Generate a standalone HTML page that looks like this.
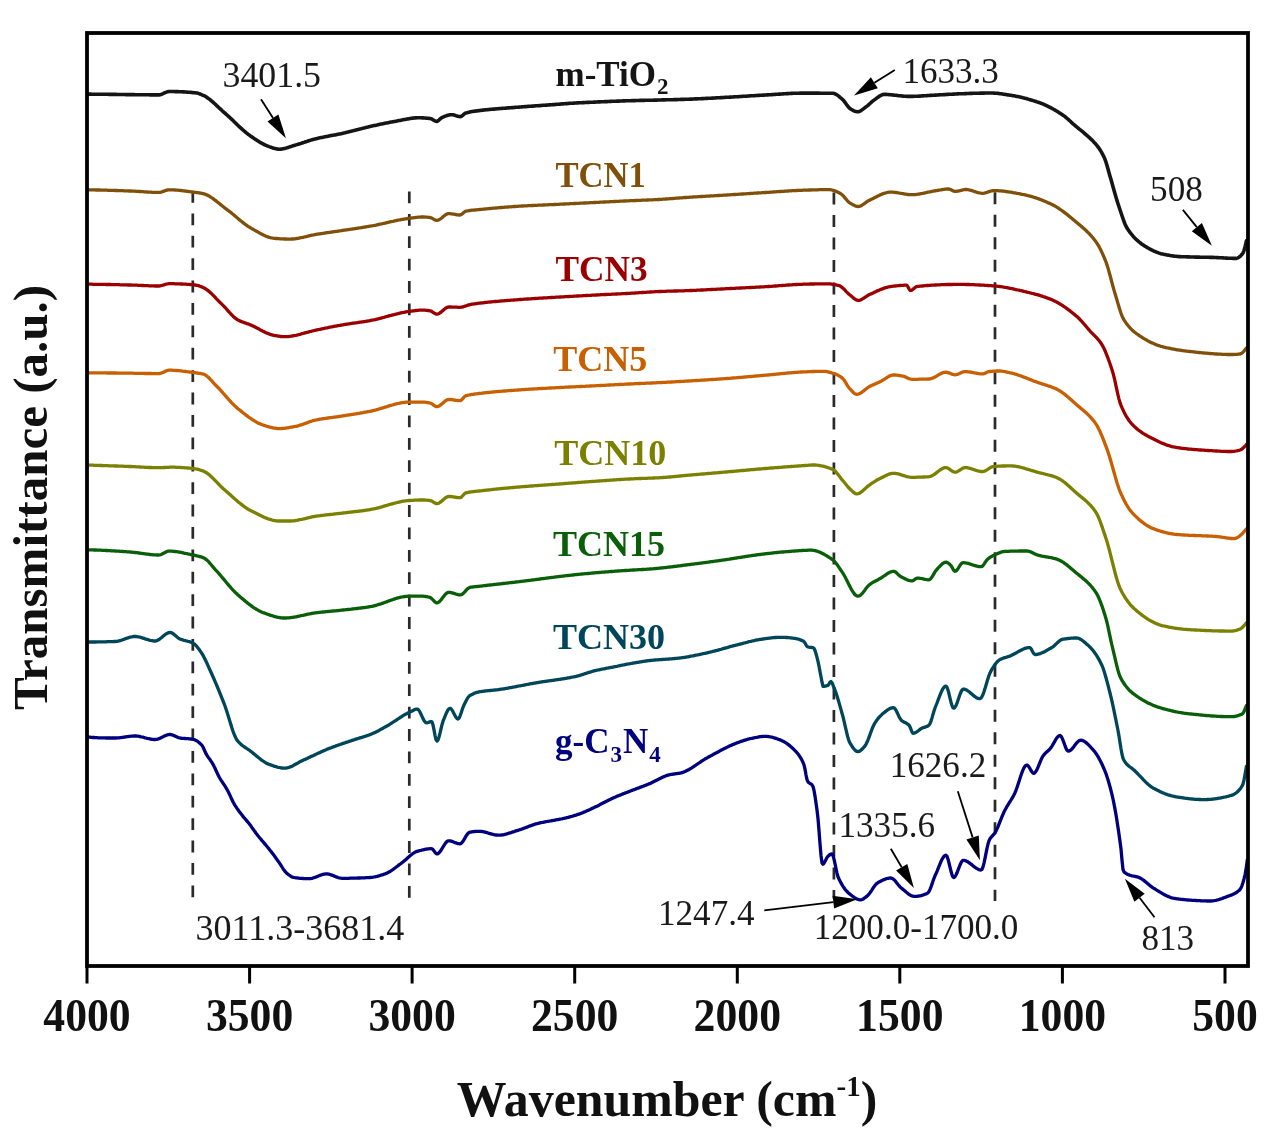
<!DOCTYPE html>
<html><head><meta charset="utf-8"><style>
html,body{margin:0;padding:0;background:#fff;width:1271px;height:1144px;overflow:hidden}
svg{display:block;filter:blur(0.45px)}
text{font-family:"Liberation Serif",serif}
.tl{font-size:46px;font-weight:bold;fill:#111}
.an{font-size:36px;fill:#1a1a1a}
.lb{font-size:35px;font-weight:bold}
.sub{font-size:23px}
.xt{font-size:51.5px;font-weight:bold;fill:#111}
.yt{font-size:49px}
.sup{font-size:30px}
</style></head><body>
<svg width="1271" height="1144" viewBox="0 0 1271 1144">
<line x1="192.8" y1="191.0" x2="192.8" y2="898.5" stroke="#2a2a2a" stroke-width="2.7" stroke-dasharray="11.8 10.6"/>
<line x1="409.3" y1="191.5" x2="409.3" y2="899.0" stroke="#2a2a2a" stroke-width="2.7" stroke-dasharray="11.8 10.6"/>
<line x1="833.9" y1="192.6" x2="833.9" y2="898.5" stroke="#2a2a2a" stroke-width="2.7" stroke-dasharray="12 10.5"/>
<line x1="995.0" y1="192.3" x2="995.0" y2="901.0" stroke="#2a2a2a" stroke-width="2.7" stroke-dasharray="12 10.5"/>
<path d="M88.0 94.1L89.0 94.1L90.0 94.1L91.0 94.1L92.0 94.2L93.0 94.2L94.0 94.2L95.0 94.2L96.0 94.2L97.0 94.2L98.0 94.2L99.0 94.2L100.0 94.3L101.0 94.3L102.0 94.3L103.0 94.3L104.0 94.3L105.0 94.3L106.0 94.3L107.0 94.3L108.0 94.3L109.0 94.4L110.0 94.4L111.0 94.4L112.0 94.4L113.0 94.4L114.0 94.4L115.0 94.4L116.0 94.4L117.0 94.5L118.0 94.5L119.0 94.5L120.0 94.5L121.0 94.5L122.0 94.5L123.0 94.5L124.0 94.5L125.0 94.5L126.0 94.6L127.0 94.6L128.0 94.6L129.0 94.6L130.0 94.6L131.0 94.6L132.0 94.6L133.0 94.6L134.0 94.6L135.0 94.7L136.0 94.7L137.0 94.7L138.0 94.7L139.0 94.7L140.0 94.7L141.0 94.7L142.0 94.8L143.0 94.8L144.0 94.8L145.0 94.8L146.0 94.8L147.0 94.8L148.0 94.8L149.0 94.8L150.0 94.9L151.0 94.9L152.0 94.9L153.0 94.9L154.0 94.9L155.0 94.9L156.0 94.9L157.0 94.9L158.0 94.9L159.0 94.9L160.0 94.8L161.0 94.5L162.0 94.1L163.0 93.7L164.0 93.2L165.0 92.7L166.0 92.3L167.0 91.9L168.0 91.6L169.0 91.5L170.0 91.5L171.0 91.5L172.0 91.5L173.0 91.5L174.0 91.5L175.0 91.6L176.0 91.6L177.0 91.6L178.0 91.6L179.0 91.7L180.0 91.7L181.0 91.8L182.0 91.8L183.0 91.9L184.0 91.9L185.0 92.0L186.0 92.0L187.0 92.1L188.0 92.2L189.0 92.2L190.0 92.3L191.0 92.4L192.0 92.5L193.0 92.6L194.0 92.7L195.0 92.8L196.0 92.9L197.0 93.1L198.0 93.3L199.0 93.6L200.0 94.0L201.0 94.4L202.0 94.8L203.0 95.3L204.0 95.7L205.0 96.2L206.0 96.8L207.0 97.5L208.0 98.2L209.0 98.9L210.0 99.7L211.0 100.5L212.0 101.3L213.0 102.2L214.0 103.1L215.0 104.0L216.0 104.9L217.0 105.9L218.0 106.8L219.0 107.8L220.0 108.7L221.0 109.6L222.0 110.6L223.0 111.5L224.0 112.3L225.0 113.2L226.0 114.1L227.0 115.0L228.0 115.9L229.0 116.8L230.0 117.7L231.0 118.7L232.0 119.6L233.0 120.6L234.0 121.6L235.0 122.5L236.0 123.5L237.0 124.5L238.0 125.4L239.0 126.4L240.0 127.3L241.0 128.2L242.0 129.1L243.0 130.0L244.0 130.9L245.0 131.7L246.0 132.6L247.0 133.4L248.0 134.2L249.0 134.9L250.0 135.7L251.0 136.3L252.0 137.0L253.0 137.7L254.0 138.4L255.0 139.1L256.0 139.7L257.0 140.4L258.0 141.0L259.0 141.6L260.0 142.3L261.0 142.8L262.0 143.4L263.0 143.9L264.0 144.5L265.0 144.9L266.0 145.4L267.0 145.8L268.0 146.2L269.0 146.6L270.0 146.9L271.0 147.3L272.0 147.6L273.0 148.0L274.0 148.3L275.0 148.6L276.0 148.8L277.0 149.0L278.0 149.1L279.0 149.2L280.0 149.2L281.0 149.1L282.0 149.0L283.0 148.8L284.0 148.6L285.0 148.4L286.0 148.1L287.0 147.8L288.0 147.5L289.0 147.1L290.0 146.8L291.0 146.5L292.0 146.1L293.0 145.8L294.0 145.5L295.0 145.2L296.0 144.9L297.0 144.6L298.0 144.3L299.0 144.0L300.0 143.7L301.0 143.4L302.0 143.0L303.0 142.7L304.0 142.4L305.0 142.0L306.0 141.7L307.0 141.4L308.0 141.0L309.0 140.7L310.0 140.4L311.0 140.1L312.0 139.8L313.0 139.5L314.0 139.2L315.0 139.0L316.0 138.7L317.0 138.5L318.0 138.2L319.0 138.0L320.0 137.8L321.0 137.6L322.0 137.4L323.0 137.2L324.0 137.0L325.0 136.8L326.0 136.6L327.0 136.4L328.0 136.2L329.0 136.0L330.0 135.8L331.0 135.6L332.0 135.4L333.0 135.3L334.0 135.1L335.0 134.9L336.0 134.7L337.0 134.5L338.0 134.3L339.0 134.1L340.0 133.9L341.0 133.7L342.0 133.5L343.0 133.2L344.0 133.0L345.0 132.8L346.0 132.5L347.0 132.3L348.0 132.1L349.0 131.8L350.0 131.5L351.0 131.3L352.0 131.0L353.0 130.8L354.0 130.5L355.0 130.3L356.0 130.0L357.0 129.7L358.0 129.5L359.0 129.2L360.0 128.9L361.0 128.7L362.0 128.4L363.0 128.2L364.0 127.9L365.0 127.7L366.0 127.4L367.0 127.2L368.0 127.0L369.0 126.7L370.0 126.5L371.0 126.3L372.0 126.1L373.0 125.8L374.0 125.6L375.0 125.4L376.0 125.2L377.0 125.0L378.0 124.7L379.0 124.5L380.0 124.3L381.0 124.1L382.0 123.9L383.0 123.7L384.0 123.5L385.0 123.3L386.0 123.1L387.0 122.9L388.0 122.7L389.0 122.5L390.0 122.3L391.0 122.1L392.0 121.9L393.0 121.8L394.0 121.6L395.0 121.4L396.0 121.2L397.0 121.0L398.0 120.8L399.0 120.6L400.0 120.4L401.0 120.2L402.0 120.0L403.0 119.8L404.0 119.6L405.0 119.4L406.0 119.2L407.0 119.0L408.0 118.9L409.0 118.7L410.0 118.5L411.0 118.4L412.0 118.3L413.0 118.1L414.0 118.0L415.0 117.9L416.0 117.9L417.0 117.8L418.0 117.8L419.0 117.8L420.0 117.8L421.0 117.8L422.0 117.9L423.0 117.9L424.0 118.0L425.0 118.0L426.0 118.1L427.0 118.2L428.0 118.3L429.0 118.4L430.0 118.5L431.0 118.7L432.0 119.2L433.0 119.8L434.0 120.4L435.0 120.9L436.0 121.3L437.0 121.4L438.0 120.9L439.0 120.1L440.0 119.1L441.0 118.2L442.0 117.5L443.0 117.1L444.0 116.6L445.0 116.2L446.0 115.9L447.0 115.5L448.0 115.2L449.0 115.0L450.0 114.8L451.0 114.7L452.0 114.7L453.0 114.8L454.0 115.1L455.0 115.3L456.0 115.7L457.0 116.0L458.0 116.3L459.0 116.5L460.0 116.6L461.0 116.5L462.0 115.9L463.0 115.1L464.0 114.2L465.0 113.4L466.0 112.9L467.0 112.7L468.0 112.4L469.0 112.2L470.0 111.9L471.0 111.8L472.0 111.6L473.0 111.4L474.0 111.3L475.0 111.1L476.0 111.0L477.0 110.9L478.0 110.7L479.0 110.6L480.0 110.5L481.0 110.4L482.0 110.3L483.0 110.1L484.0 110.0L485.0 109.9L486.0 109.8L487.0 109.7L488.0 109.6L489.0 109.5L490.0 109.4L491.0 109.3L492.0 109.2L493.0 109.1L494.0 109.1L495.0 109.0L496.0 108.9L497.0 108.8L498.0 108.7L499.0 108.6L500.0 108.5L501.0 108.5L502.0 108.4L503.0 108.3L504.0 108.2L505.0 108.2L506.0 108.1L507.0 108.0L508.0 107.9L509.0 107.9L510.0 107.8L511.0 107.7L512.0 107.6L513.0 107.6L514.0 107.5L515.0 107.4L516.0 107.3L517.0 107.3L518.0 107.2L519.0 107.1L520.0 107.0L521.0 107.0L522.0 106.9L523.0 106.8L524.0 106.7L525.0 106.6L526.0 106.6L527.0 106.5L528.0 106.4L529.0 106.3L530.0 106.3L531.0 106.2L532.0 106.1L533.0 106.1L534.0 106.0L535.0 105.9L536.0 105.8L537.0 105.8L538.0 105.7L539.0 105.6L540.0 105.6L541.0 105.5L542.0 105.4L543.0 105.3L544.0 105.3L545.0 105.2L546.0 105.1L547.0 105.1L548.0 105.0L549.0 104.9L550.0 104.9L551.0 104.8L552.0 104.7L553.0 104.6L554.0 104.6L555.0 104.5L556.0 104.4L557.0 104.3L558.0 104.3L559.0 104.2L560.0 104.1L561.0 104.0L562.0 103.9L563.0 103.9L564.0 103.8L565.0 103.7L566.0 103.6L567.0 103.6L568.0 103.5L569.0 103.4L570.0 103.3L571.0 103.3L572.0 103.2L573.0 103.2L574.0 103.1L575.0 103.0L576.0 103.0L577.0 102.9L578.0 102.9L579.0 102.8L580.0 102.8L581.0 102.7L582.0 102.7L583.0 102.6L584.0 102.6L585.0 102.5L586.0 102.5L587.0 102.4L588.0 102.4L589.0 102.4L590.0 102.3L591.0 102.3L592.0 102.2L593.0 102.2L594.0 102.1L595.0 102.1L596.0 102.0L597.0 102.0L598.0 101.9L599.0 101.9L600.0 101.9L601.0 101.8L602.0 101.8L603.0 101.7L604.0 101.7L605.0 101.6L606.0 101.6L607.0 101.6L608.0 101.5L609.0 101.5L610.0 101.4L611.0 101.4L612.0 101.3L613.0 101.3L614.0 101.3L615.0 101.2L616.0 101.2L617.0 101.1L618.0 101.1L619.0 101.1L620.0 101.0L621.0 101.0L622.0 101.0L623.0 100.9L624.0 100.9L625.0 100.9L626.0 100.8L627.0 100.8L628.0 100.8L629.0 100.7L630.0 100.7L631.0 100.7L632.0 100.6L633.0 100.6L634.0 100.6L635.0 100.6L636.0 100.5L637.0 100.5L638.0 100.5L639.0 100.5L640.0 100.4L641.0 100.4L642.0 100.4L643.0 100.4L644.0 100.4L645.0 100.3L646.0 100.3L647.0 100.3L648.0 100.3L649.0 100.3L650.0 100.2L651.0 100.2L652.0 100.2L653.0 100.2L654.0 100.1L655.0 100.1L656.0 100.1L657.0 100.1L658.0 100.0L659.0 100.0L660.0 100.0L661.0 100.0L662.0 99.9L663.0 99.9L664.0 99.9L665.0 99.9L666.0 99.8L667.0 99.8L668.0 99.8L669.0 99.8L670.0 99.7L671.0 99.7L672.0 99.7L673.0 99.7L674.0 99.6L675.0 99.6L676.0 99.6L677.0 99.6L678.0 99.5L679.0 99.5L680.0 99.5L681.0 99.4L682.0 99.4L683.0 99.4L684.0 99.4L685.0 99.3L686.0 99.3L687.0 99.3L688.0 99.2L689.0 99.2L690.0 99.1L691.0 99.1L692.0 99.1L693.0 99.0L694.0 99.0L695.0 98.9L696.0 98.9L697.0 98.9L698.0 98.8L699.0 98.8L700.0 98.7L701.0 98.7L702.0 98.6L703.0 98.6L704.0 98.5L705.0 98.5L706.0 98.4L707.0 98.4L708.0 98.3L709.0 98.3L710.0 98.2L711.0 98.2L712.0 98.1L713.0 98.1L714.0 98.0L715.0 98.0L716.0 97.9L717.0 97.8L718.0 97.8L719.0 97.7L720.0 97.7L721.0 97.6L722.0 97.6L723.0 97.5L724.0 97.5L725.0 97.4L726.0 97.3L727.0 97.3L728.0 97.2L729.0 97.2L730.0 97.1L731.0 97.1L732.0 97.0L733.0 97.0L734.0 96.9L735.0 96.8L736.0 96.8L737.0 96.7L738.0 96.7L739.0 96.6L740.0 96.5L741.0 96.5L742.0 96.4L743.0 96.3L744.0 96.3L745.0 96.2L746.0 96.2L747.0 96.1L748.0 96.0L749.0 96.0L750.0 95.9L751.0 95.8L752.0 95.8L753.0 95.7L754.0 95.7L755.0 95.6L756.0 95.5L757.0 95.5L758.0 95.4L759.0 95.4L760.0 95.3L761.0 95.2L762.0 95.2L763.0 95.1L764.0 95.1L765.0 95.0L766.0 95.0L767.0 94.9L768.0 94.9L769.0 94.8L770.0 94.7L771.0 94.7L772.0 94.6L773.0 94.5L774.0 94.5L775.0 94.4L776.0 94.3L777.0 94.3L778.0 94.2L779.0 94.1L780.0 94.1L781.0 94.0L782.0 94.0L783.0 93.9L784.0 93.8L785.0 93.8L786.0 93.7L787.0 93.6L788.0 93.6L789.0 93.5L790.0 93.5L791.0 93.4L792.0 93.4L793.0 93.3L794.0 93.3L795.0 93.3L796.0 93.2L797.0 93.2L798.0 93.2L799.0 93.2L800.0 93.1L801.0 93.1L802.0 93.1L803.0 93.1L804.0 93.1L805.0 93.1L806.0 93.1L807.0 93.1L808.0 93.1L809.0 93.1L810.0 93.1L811.0 93.1L812.0 93.1L813.0 93.1L814.0 93.1L815.0 93.1L816.0 93.1L817.0 93.1L818.0 93.1L819.0 93.1L820.0 93.2L821.0 93.2L822.0 93.2L823.0 93.2L824.0 93.2L825.0 93.2L826.0 93.2L827.0 93.2L828.0 93.2L829.0 93.2L830.0 93.3L831.0 93.3L832.0 93.3L833.0 93.3L834.0 93.5L835.0 93.8L836.0 94.3L837.0 94.9L838.0 95.6L839.0 96.4L840.0 97.3L841.0 98.1L842.0 99.0L843.0 99.9L844.0 101.0L845.0 102.4L846.0 103.8L847.0 105.2L848.0 106.5L849.0 107.7L850.0 108.5L851.0 109.2L852.0 109.8L853.0 110.4L854.0 110.9L855.0 111.3L856.0 111.6L857.0 111.8L858.0 111.8L859.0 111.5L860.0 111.1L861.0 110.6L862.0 109.9L863.0 109.1L864.0 108.4L865.0 107.6L866.0 106.8L867.0 106.1L868.0 105.3L869.0 104.4L870.0 103.5L871.0 102.6L872.0 101.7L873.0 100.9L874.0 100.1L875.0 99.4L876.0 98.7L877.0 97.9L878.0 97.2L879.0 96.5L880.0 95.8L881.0 95.3L882.0 94.8L883.0 94.5L884.0 94.4L885.0 94.4L886.0 94.4L887.0 94.5L888.0 94.5L889.0 94.6L890.0 94.7L891.0 94.8L892.0 94.9L893.0 95.0L894.0 95.1L895.0 95.2L896.0 95.3L897.0 95.4L898.0 95.6L899.0 95.7L900.0 95.8L901.0 95.9L902.0 96.0L903.0 96.1L904.0 96.2L905.0 96.3L906.0 96.3L907.0 96.4L908.0 96.4L909.0 96.4L910.0 96.4L911.0 96.4L912.0 96.4L913.0 96.4L914.0 96.3L915.0 96.3L916.0 96.2L917.0 96.2L918.0 96.2L919.0 96.1L920.0 96.1L921.0 96.0L922.0 95.9L923.0 95.9L924.0 95.8L925.0 95.7L926.0 95.7L927.0 95.6L928.0 95.5L929.0 95.5L930.0 95.4L931.0 95.4L932.0 95.3L933.0 95.2L934.0 95.2L935.0 95.1L936.0 95.1L937.0 95.0L938.0 95.0L939.0 94.9L940.0 94.8L941.0 94.8L942.0 94.7L943.0 94.7L944.0 94.6L945.0 94.6L946.0 94.5L947.0 94.4L948.0 94.4L949.0 94.3L950.0 94.3L951.0 94.2L952.0 94.2L953.0 94.1L954.0 94.1L955.0 94.0L956.0 94.0L957.0 93.9L958.0 93.9L959.0 93.8L960.0 93.8L961.0 93.8L962.0 93.7L963.0 93.7L964.0 93.7L965.0 93.6L966.0 93.6L967.0 93.5L968.0 93.5L969.0 93.5L970.0 93.4L971.0 93.4L972.0 93.4L973.0 93.3L974.0 93.3L975.0 93.3L976.0 93.2L977.0 93.2L978.0 93.2L979.0 93.2L980.0 93.1L981.0 93.1L982.0 93.1L983.0 93.1L984.0 93.1L985.0 93.0L986.0 93.0L987.0 93.0L988.0 93.0L989.0 93.0L990.0 93.0L991.0 93.0L992.0 93.0L993.0 93.0L994.0 93.1L995.0 93.2L996.0 93.2L997.0 93.3L998.0 93.4L999.0 93.5L1000.0 93.7L1001.0 93.8L1002.0 93.9L1003.0 94.1L1004.0 94.2L1005.0 94.4L1006.0 94.5L1007.0 94.7L1008.0 94.9L1009.0 95.0L1010.0 95.2L1011.0 95.3L1012.0 95.5L1013.0 95.7L1014.0 95.8L1015.0 96.0L1016.0 96.2L1017.0 96.4L1018.0 96.6L1019.0 96.8L1020.0 97.1L1021.0 97.3L1022.0 97.5L1023.0 97.8L1024.0 98.0L1025.0 98.3L1026.0 98.5L1027.0 98.8L1028.0 99.1L1029.0 99.4L1030.0 99.7L1031.0 100.0L1032.0 100.3L1033.0 100.6L1034.0 100.9L1035.0 101.2L1036.0 101.5L1037.0 101.9L1038.0 102.2L1039.0 102.5L1040.0 102.9L1041.0 103.3L1042.0 103.6L1043.0 104.0L1044.0 104.5L1045.0 104.9L1046.0 105.4L1047.0 105.8L1048.0 106.3L1049.0 106.8L1050.0 107.3L1051.0 107.9L1052.0 108.4L1053.0 109.0L1054.0 109.5L1055.0 110.1L1056.0 110.7L1057.0 111.3L1058.0 111.9L1059.0 112.6L1060.0 113.2L1061.0 113.9L1062.0 114.5L1063.0 115.2L1064.0 115.9L1065.0 116.7L1066.0 117.5L1067.0 118.4L1068.0 119.2L1069.0 120.1L1070.0 121.0L1071.0 121.9L1072.0 122.9L1073.0 123.8L1074.0 124.6L1075.0 125.5L1076.0 126.3L1077.0 127.1L1078.0 128.0L1079.0 128.8L1080.0 129.6L1081.0 130.4L1082.0 131.2L1083.0 132.0L1084.0 132.9L1085.0 133.8L1086.0 134.7L1087.0 135.5L1088.0 136.4L1089.0 137.3L1090.0 138.2L1091.0 139.2L1092.0 140.1L1093.0 141.1L1094.0 142.2L1095.0 143.2L1096.0 144.4L1097.0 145.6L1098.0 146.9L1099.0 148.3L1100.0 149.8L1101.0 151.4L1102.0 153.1L1103.0 155.0L1104.0 157.1L1105.0 159.4L1106.0 162.2L1107.0 165.5L1108.0 169.1L1109.0 172.7L1110.0 176.2L1111.0 179.6L1112.0 183.1L1113.0 186.7L1114.0 190.2L1115.0 193.8L1116.0 197.2L1117.0 200.6L1118.0 203.8L1119.0 206.8L1120.0 209.8L1121.0 212.8L1122.0 215.8L1123.0 218.7L1124.0 221.5L1125.0 224.0L1126.0 226.2L1127.0 228.1L1128.0 229.6L1129.0 231.0L1130.0 232.4L1131.0 233.7L1132.0 234.9L1133.0 236.1L1134.0 237.2L1135.0 238.2L1136.0 239.2L1137.0 240.2L1138.0 241.0L1139.0 241.9L1140.0 242.7L1141.0 243.5L1142.0 244.2L1143.0 244.9L1144.0 245.5L1145.0 246.2L1146.0 246.8L1147.0 247.4L1148.0 248.0L1149.0 248.5L1150.0 249.1L1151.0 249.6L1152.0 250.1L1153.0 250.6L1154.0 251.1L1155.0 251.5L1156.0 251.9L1157.0 252.3L1158.0 252.7L1159.0 253.1L1160.0 253.4L1161.0 253.7L1162.0 253.9L1163.0 254.1L1164.0 254.4L1165.0 254.6L1166.0 254.8L1167.0 255.0L1168.0 255.1L1169.0 255.3L1170.0 255.5L1171.0 255.7L1172.0 255.8L1173.0 256.0L1174.0 256.1L1175.0 256.2L1176.0 256.3L1177.0 256.4L1178.0 256.5L1179.0 256.6L1180.0 256.6L1181.0 256.7L1182.0 256.7L1183.0 256.7L1184.0 256.8L1185.0 256.8L1186.0 256.8L1187.0 256.9L1188.0 256.9L1189.0 256.9L1190.0 257.0L1191.0 257.0L1192.0 257.0L1193.0 257.0L1194.0 257.0L1195.0 257.1L1196.0 257.1L1197.0 257.1L1198.0 257.1L1199.0 257.1L1200.0 257.2L1201.0 257.2L1202.0 257.2L1203.0 257.2L1204.0 257.2L1205.0 257.3L1206.0 257.3L1207.0 257.3L1208.0 257.3L1209.0 257.3L1210.0 257.4L1211.0 257.4L1212.0 257.4L1213.0 257.4L1214.0 257.5L1215.0 257.5L1216.0 257.5L1217.0 257.6L1218.0 257.6L1219.0 257.7L1220.0 257.7L1221.0 257.8L1222.0 257.8L1223.0 257.9L1224.0 258.0L1225.0 258.0L1226.0 258.1L1227.0 258.1L1228.0 258.2L1229.0 258.2L1230.0 258.3L1231.0 258.3L1232.0 258.3L1233.0 258.4L1234.0 258.4L1235.0 258.4L1236.0 258.4L1237.0 258.2L1238.0 257.8L1239.0 257.2L1240.0 256.4L1241.0 255.4L1242.0 254.3L1243.0 253.0L1244.0 250.6L1245.0 247.0L1246.0 242.7L1246.4 240.9" fill="none" stroke="#151515" stroke-width="3.6" stroke-linejoin="round" stroke-linecap="round"/>
<path d="M88.0 189.8L89.0 189.8L90.0 189.8L91.0 189.9L92.0 189.9L93.0 189.9L94.0 189.9L95.0 189.9L96.0 190.0L97.0 190.0L98.0 190.0L99.0 190.0L100.0 190.0L101.0 190.1L102.0 190.1L103.0 190.1L104.0 190.2L105.0 190.2L106.0 190.2L107.0 190.2L108.0 190.3L109.0 190.3L110.0 190.3L111.0 190.4L112.0 190.4L113.0 190.4L114.0 190.4L115.0 190.5L116.0 190.5L117.0 190.5L118.0 190.6L119.0 190.6L120.0 190.6L121.0 190.7L122.0 190.7L123.0 190.7L124.0 190.8L125.0 190.8L126.0 190.9L127.0 190.9L128.0 190.9L129.0 191.0L130.0 191.0L131.0 191.0L132.0 191.1L133.0 191.1L134.0 191.2L135.0 191.2L136.0 191.3L137.0 191.4L138.0 191.4L139.0 191.5L140.0 191.5L141.0 191.6L142.0 191.7L143.0 191.7L144.0 191.8L145.0 191.9L146.0 191.9L147.0 192.0L148.0 192.1L149.0 192.1L150.0 192.2L151.0 192.2L152.0 192.3L153.0 192.3L154.0 192.3L155.0 192.4L156.0 192.4L157.0 192.4L158.0 192.4L159.0 192.4L160.0 192.3L161.0 192.1L162.0 191.8L163.0 191.4L164.0 191.1L165.0 190.7L166.0 190.4L167.0 190.1L168.0 189.9L169.0 189.8L170.0 189.8L171.0 189.8L172.0 189.8L173.0 189.9L174.0 189.9L175.0 190.0L176.0 190.1L177.0 190.1L178.0 190.2L179.0 190.3L180.0 190.4L181.0 190.5L182.0 190.6L183.0 190.8L184.0 190.9L185.0 191.0L186.0 191.1L187.0 191.3L188.0 191.4L189.0 191.5L190.0 191.7L191.0 191.8L192.0 191.9L193.0 192.1L194.0 192.2L195.0 192.3L196.0 192.5L197.0 192.6L198.0 192.7L199.0 192.9L200.0 193.0L201.0 193.2L202.0 193.4L203.0 193.6L204.0 193.9L205.0 194.2L206.0 194.6L207.0 195.0L208.0 195.5L209.0 196.1L210.0 196.6L211.0 197.3L212.0 197.9L213.0 198.6L214.0 199.4L215.0 200.1L216.0 200.9L217.0 201.7L218.0 202.5L219.0 203.3L220.0 204.1L221.0 204.9L222.0 205.7L223.0 206.5L224.0 207.3L225.0 208.1L226.0 208.8L227.0 209.6L228.0 210.3L229.0 211.1L230.0 211.8L231.0 212.6L232.0 213.5L233.0 214.3L234.0 215.1L235.0 216.0L236.0 216.8L237.0 217.7L238.0 218.5L239.0 219.4L240.0 220.2L241.0 221.0L242.0 221.8L243.0 222.6L244.0 223.4L245.0 224.2L246.0 224.9L247.0 225.6L248.0 226.3L249.0 226.9L250.0 227.5L251.0 228.1L252.0 228.7L253.0 229.2L254.0 229.8L255.0 230.4L256.0 231.0L257.0 231.6L258.0 232.1L259.0 232.7L260.0 233.3L261.0 233.8L262.0 234.3L263.0 234.8L264.0 235.3L265.0 235.7L266.0 236.2L267.0 236.6L268.0 236.9L269.0 237.3L270.0 237.5L271.0 237.8L272.0 238.0L273.0 238.2L274.0 238.3L275.0 238.4L276.0 238.5L277.0 238.5L278.0 238.6L279.0 238.7L280.0 238.8L281.0 238.8L282.0 238.9L283.0 238.9L284.0 239.0L285.0 239.0L286.0 239.0L287.0 239.1L288.0 239.1L289.0 239.1L290.0 239.1L291.0 239.1L292.0 239.0L293.0 239.0L294.0 238.9L295.0 238.8L296.0 238.6L297.0 238.5L298.0 238.3L299.0 238.1L300.0 237.9L301.0 237.7L302.0 237.5L303.0 237.3L304.0 237.0L305.0 236.8L306.0 236.6L307.0 236.3L308.0 236.1L309.0 235.8L310.0 235.6L311.0 235.4L312.0 235.2L313.0 235.0L314.0 234.8L315.0 234.6L316.0 234.4L317.0 234.2L318.0 234.1L319.0 233.9L320.0 233.8L321.0 233.6L322.0 233.5L323.0 233.3L324.0 233.2L325.0 233.0L326.0 232.9L327.0 232.7L328.0 232.6L329.0 232.4L330.0 232.3L331.0 232.1L332.0 232.0L333.0 231.9L334.0 231.7L335.0 231.6L336.0 231.4L337.0 231.3L338.0 231.1L339.0 231.0L340.0 230.8L341.0 230.7L342.0 230.5L343.0 230.4L344.0 230.2L345.0 230.1L346.0 229.9L347.0 229.8L348.0 229.6L349.0 229.5L350.0 229.3L351.0 229.2L352.0 229.1L353.0 228.9L354.0 228.8L355.0 228.6L356.0 228.4L357.0 228.3L358.0 228.1L359.0 228.0L360.0 227.8L361.0 227.7L362.0 227.5L363.0 227.4L364.0 227.2L365.0 227.0L366.0 226.9L367.0 226.7L368.0 226.5L369.0 226.4L370.0 226.2L371.0 226.0L372.0 225.8L373.0 225.7L374.0 225.5L375.0 225.3L376.0 225.1L377.0 224.8L378.0 224.6L379.0 224.4L380.0 224.2L381.0 224.0L382.0 223.8L383.0 223.5L384.0 223.3L385.0 223.1L386.0 222.8L387.0 222.6L388.0 222.4L389.0 222.2L390.0 221.9L391.0 221.7L392.0 221.5L393.0 221.3L394.0 221.0L395.0 220.8L396.0 220.6L397.0 220.4L398.0 220.2L399.0 220.0L400.0 219.8L401.0 219.6L402.0 219.4L403.0 219.3L404.0 219.1L405.0 218.9L406.0 218.8L407.0 218.6L408.0 218.5L409.0 218.3L410.0 218.2L411.0 218.1L412.0 217.9L413.0 217.8L414.0 217.7L415.0 217.6L416.0 217.4L417.0 217.3L418.0 217.2L419.0 217.1L420.0 217.1L421.0 217.0L422.0 217.0L423.0 217.0L424.0 217.0L425.0 217.1L426.0 217.1L427.0 217.2L428.0 217.3L429.0 217.4L430.0 217.5L431.0 217.8L432.0 218.2L433.0 218.8L434.0 219.4L435.0 219.9L436.0 220.3L437.0 220.4L438.0 220.2L439.0 219.8L440.0 219.2L441.0 218.5L442.0 217.7L443.0 216.8L444.0 216.0L445.0 215.2L446.0 214.5L447.0 214.0L448.0 213.7L449.0 213.6L450.0 213.7L451.0 213.8L452.0 213.9L453.0 214.1L454.0 214.2L455.0 214.4L456.0 214.6L457.0 214.8L458.0 214.9L459.0 215.0L460.0 215.0L461.0 214.7L462.0 214.1L463.0 213.2L464.0 212.3L465.0 211.5L466.0 211.2L467.0 211.0L468.0 210.8L469.0 210.6L470.0 210.5L471.0 210.4L472.0 210.2L473.0 210.2L474.0 210.1L475.0 210.0L476.0 209.9L477.0 209.8L478.0 209.7L479.0 209.6L480.0 209.5L481.0 209.4L482.0 209.3L483.0 209.2L484.0 209.1L485.0 209.0L486.0 208.9L487.0 208.8L488.0 208.7L489.0 208.6L490.0 208.5L491.0 208.4L492.0 208.3L493.0 208.2L494.0 208.2L495.0 208.1L496.0 208.0L497.0 207.9L498.0 207.8L499.0 207.7L500.0 207.6L501.0 207.5L502.0 207.5L503.0 207.4L504.0 207.3L505.0 207.2L506.0 207.1L507.0 207.1L508.0 207.0L509.0 206.9L510.0 206.8L511.0 206.8L512.0 206.7L513.0 206.6L514.0 206.5L515.0 206.5L516.0 206.4L517.0 206.3L518.0 206.3L519.0 206.2L520.0 206.2L521.0 206.1L522.0 206.0L523.0 206.0L524.0 205.9L525.0 205.9L526.0 205.8L527.0 205.8L528.0 205.7L529.0 205.7L530.0 205.6L531.0 205.6L532.0 205.5L533.0 205.5L534.0 205.4L535.0 205.4L536.0 205.3L537.0 205.3L538.0 205.2L539.0 205.2L540.0 205.1L541.0 205.1L542.0 205.1L543.0 205.0L544.0 205.0L545.0 204.9L546.0 204.9L547.0 204.8L548.0 204.8L549.0 204.7L550.0 204.7L551.0 204.6L552.0 204.6L553.0 204.6L554.0 204.5L555.0 204.5L556.0 204.4L557.0 204.4L558.0 204.3L559.0 204.3L560.0 204.2L561.0 204.2L562.0 204.1L563.0 204.1L564.0 204.0L565.0 204.0L566.0 203.9L567.0 203.9L568.0 203.8L569.0 203.8L570.0 203.7L571.0 203.7L572.0 203.6L573.0 203.6L574.0 203.5L575.0 203.5L576.0 203.4L577.0 203.4L578.0 203.3L579.0 203.3L580.0 203.2L581.0 203.2L582.0 203.1L583.0 203.1L584.0 203.0L585.0 203.0L586.0 202.9L587.0 202.9L588.0 202.8L589.0 202.8L590.0 202.7L591.0 202.7L592.0 202.6L593.0 202.6L594.0 202.5L595.0 202.5L596.0 202.4L597.0 202.4L598.0 202.3L599.0 202.3L600.0 202.2L601.0 202.2L602.0 202.1L603.0 202.1L604.0 202.0L605.0 202.0L606.0 201.9L607.0 201.9L608.0 201.8L609.0 201.8L610.0 201.7L611.0 201.7L612.0 201.6L613.0 201.6L614.0 201.5L615.0 201.5L616.0 201.4L617.0 201.4L618.0 201.3L619.0 201.3L620.0 201.2L621.0 201.2L622.0 201.1L623.0 201.1L624.0 201.0L625.0 201.0L626.0 200.9L627.0 200.9L628.0 200.8L629.0 200.8L630.0 200.7L631.0 200.7L632.0 200.7L633.0 200.6L634.0 200.6L635.0 200.5L636.0 200.5L637.0 200.4L638.0 200.4L639.0 200.3L640.0 200.3L641.0 200.3L642.0 200.2L643.0 200.2L644.0 200.1L645.0 200.1L646.0 200.1L647.0 200.0L648.0 200.0L649.0 199.9L650.0 199.9L651.0 199.8L652.0 199.8L653.0 199.8L654.0 199.7L655.0 199.7L656.0 199.6L657.0 199.6L658.0 199.5L659.0 199.5L660.0 199.4L661.0 199.3L662.0 199.3L663.0 199.2L664.0 199.2L665.0 199.1L666.0 199.0L667.0 198.9L668.0 198.9L669.0 198.8L670.0 198.7L671.0 198.6L672.0 198.6L673.0 198.5L674.0 198.4L675.0 198.3L676.0 198.2L677.0 198.2L678.0 198.1L679.0 198.0L680.0 197.9L681.0 197.8L682.0 197.8L683.0 197.7L684.0 197.6L685.0 197.5L686.0 197.5L687.0 197.4L688.0 197.3L689.0 197.3L690.0 197.2L691.0 197.1L692.0 197.1L693.0 197.0L694.0 196.9L695.0 196.9L696.0 196.8L697.0 196.8L698.0 196.7L699.0 196.6L700.0 196.6L701.0 196.5L702.0 196.5L703.0 196.4L704.0 196.3L705.0 196.3L706.0 196.2L707.0 196.2L708.0 196.1L709.0 196.1L710.0 196.0L711.0 195.9L712.0 195.9L713.0 195.8L714.0 195.8L715.0 195.7L716.0 195.7L717.0 195.6L718.0 195.5L719.0 195.5L720.0 195.4L721.0 195.4L722.0 195.3L723.0 195.2L724.0 195.2L725.0 195.1L726.0 195.1L727.0 195.0L728.0 194.9L729.0 194.9L730.0 194.8L731.0 194.7L732.0 194.7L733.0 194.6L734.0 194.5L735.0 194.5L736.0 194.4L737.0 194.4L738.0 194.3L739.0 194.2L740.0 194.2L741.0 194.1L742.0 194.0L743.0 194.0L744.0 193.9L745.0 193.8L746.0 193.8L747.0 193.7L748.0 193.6L749.0 193.6L750.0 193.5L751.0 193.4L752.0 193.4L753.0 193.3L754.0 193.2L755.0 193.2L756.0 193.1L757.0 193.0L758.0 193.0L759.0 192.9L760.0 192.8L761.0 192.8L762.0 192.7L763.0 192.7L764.0 192.6L765.0 192.5L766.0 192.5L767.0 192.4L768.0 192.3L769.0 192.3L770.0 192.2L771.0 192.1L772.0 192.1L773.0 192.0L774.0 191.9L775.0 191.9L776.0 191.8L777.0 191.7L778.0 191.7L779.0 191.6L780.0 191.5L781.0 191.5L782.0 191.4L783.0 191.3L784.0 191.3L785.0 191.2L786.0 191.1L787.0 191.1L788.0 191.0L789.0 190.9L790.0 190.9L791.0 190.8L792.0 190.7L793.0 190.7L794.0 190.6L795.0 190.6L796.0 190.5L797.0 190.5L798.0 190.4L799.0 190.4L800.0 190.3L801.0 190.3L802.0 190.3L803.0 190.2L804.0 190.2L805.0 190.2L806.0 190.1L807.0 190.1L808.0 190.1L809.0 190.0L810.0 190.0L811.0 190.0L812.0 189.9L813.0 189.9L814.0 189.9L815.0 189.8L816.0 189.8L817.0 189.8L818.0 189.8L819.0 189.7L820.0 189.7L821.0 189.7L822.0 189.7L823.0 189.6L824.0 189.6L825.0 189.6L826.0 189.6L827.0 189.6L828.0 189.6L829.0 189.6L830.0 189.7L831.0 189.8L832.0 190.0L833.0 190.3L834.0 190.6L835.0 191.0L836.0 191.4L837.0 191.8L838.0 192.3L839.0 192.8L840.0 193.3L841.0 193.9L842.0 194.6L843.0 195.6L844.0 196.7L845.0 197.9L846.0 199.1L847.0 200.3L848.0 201.4L849.0 202.3L850.0 203.0L851.0 203.6L852.0 204.2L853.0 204.8L854.0 205.3L855.0 205.8L856.0 206.2L857.0 206.4L858.0 206.5L859.0 206.4L860.0 206.1L861.0 205.7L862.0 205.2L863.0 204.5L864.0 203.8L865.0 203.1L866.0 202.4L867.0 201.7L868.0 201.0L869.0 200.4L870.0 199.9L871.0 199.4L872.0 199.0L873.0 198.5L874.0 198.0L875.0 197.4L876.0 196.9L877.0 196.4L878.0 195.9L879.0 195.5L880.0 195.0L881.0 194.5L882.0 194.1L883.0 193.7L884.0 193.4L885.0 193.0L886.0 192.8L887.0 192.5L888.0 192.3L889.0 192.2L890.0 192.1L891.0 192.1L892.0 192.1L893.0 192.2L894.0 192.3L895.0 192.4L896.0 192.5L897.0 192.6L898.0 192.8L899.0 193.0L900.0 193.2L901.0 193.3L902.0 193.5L903.0 193.7L904.0 193.9L905.0 194.1L906.0 194.2L907.0 194.4L908.0 194.5L909.0 194.6L910.0 194.6L911.0 194.7L912.0 194.7L913.0 194.7L914.0 194.6L915.0 194.6L916.0 194.5L917.0 194.3L918.0 194.2L919.0 194.1L920.0 193.9L921.0 193.7L922.0 193.5L923.0 193.3L924.0 193.1L925.0 192.9L926.0 192.7L927.0 192.4L928.0 192.2L929.0 192.0L930.0 191.8L931.0 191.6L932.0 191.4L933.0 191.2L934.0 191.0L935.0 190.9L936.0 190.7L937.0 190.5L938.0 190.4L939.0 190.2L940.0 190.0L941.0 189.8L942.0 189.6L943.0 189.5L944.0 189.3L945.0 189.2L946.0 189.1L947.0 189.0L948.0 189.0L949.0 189.0L950.0 189.3L951.0 189.8L952.0 190.3L953.0 190.9L954.0 191.2L955.0 191.4L956.0 191.4L957.0 191.2L958.0 191.1L959.0 190.8L960.0 190.6L961.0 190.3L962.0 190.1L963.0 189.8L964.0 189.7L965.0 189.5L966.0 189.5L967.0 189.5L968.0 189.7L969.0 189.8L970.0 190.1L971.0 190.3L972.0 190.6L973.0 191.0L974.0 191.3L975.0 191.6L976.0 192.0L977.0 192.3L978.0 192.6L979.0 192.8L980.0 193.0L981.0 193.2L982.0 193.3L983.0 193.3L984.0 193.2L985.0 193.0L986.0 192.7L987.0 192.4L988.0 192.0L989.0 191.6L990.0 191.3L991.0 191.0L992.0 190.8L993.0 190.6L994.0 190.6L995.0 190.6L996.0 190.6L997.0 190.7L998.0 190.7L999.0 190.8L1000.0 190.9L1001.0 190.9L1002.0 191.0L1003.0 191.1L1004.0 191.2L1005.0 191.4L1006.0 191.5L1007.0 191.6L1008.0 191.8L1009.0 191.9L1010.0 192.1L1011.0 192.2L1012.0 192.4L1013.0 192.6L1014.0 192.8L1015.0 192.9L1016.0 193.1L1017.0 193.3L1018.0 193.5L1019.0 193.7L1020.0 193.9L1021.0 194.1L1022.0 194.3L1023.0 194.5L1024.0 194.7L1025.0 194.9L1026.0 195.1L1027.0 195.3L1028.0 195.6L1029.0 195.8L1030.0 196.1L1031.0 196.4L1032.0 196.7L1033.0 197.0L1034.0 197.3L1035.0 197.6L1036.0 197.9L1037.0 198.3L1038.0 198.6L1039.0 199.0L1040.0 199.4L1041.0 199.7L1042.0 200.1L1043.0 200.5L1044.0 201.0L1045.0 201.4L1046.0 201.8L1047.0 202.2L1048.0 202.7L1049.0 203.1L1050.0 203.6L1051.0 204.1L1052.0 204.5L1053.0 205.0L1054.0 205.6L1055.0 206.1L1056.0 206.7L1057.0 207.3L1058.0 207.9L1059.0 208.6L1060.0 209.3L1061.0 210.0L1062.0 210.7L1063.0 211.4L1064.0 212.1L1065.0 212.9L1066.0 213.7L1067.0 214.4L1068.0 215.2L1069.0 216.1L1070.0 216.9L1071.0 217.7L1072.0 218.5L1073.0 219.4L1074.0 220.2L1075.0 221.0L1076.0 221.9L1077.0 222.7L1078.0 223.6L1079.0 224.4L1080.0 225.2L1081.0 226.1L1082.0 226.9L1083.0 227.8L1084.0 228.7L1085.0 229.6L1086.0 230.5L1087.0 231.5L1088.0 232.4L1089.0 233.5L1090.0 234.5L1091.0 235.6L1092.0 236.8L1093.0 237.9L1094.0 239.2L1095.0 240.5L1096.0 241.8L1097.0 243.3L1098.0 244.9L1099.0 246.6L1100.0 248.5L1101.0 250.5L1102.0 252.6L1103.0 254.8L1104.0 257.1L1105.0 259.5L1106.0 262.0L1107.0 264.9L1108.0 268.1L1109.0 271.6L1110.0 275.2L1111.0 279.0L1112.0 282.8L1113.0 286.5L1114.0 290.1L1115.0 293.5L1116.0 296.7L1117.0 300.1L1118.0 303.6L1119.0 307.0L1120.0 310.2L1121.0 313.2L1122.0 315.9L1123.0 318.1L1124.0 319.8L1125.0 321.4L1126.0 322.9L1127.0 324.2L1128.0 325.5L1129.0 326.7L1130.0 327.8L1131.0 328.9L1132.0 329.9L1133.0 330.8L1134.0 331.7L1135.0 332.5L1136.0 333.2L1137.0 334.0L1138.0 334.7L1139.0 335.4L1140.0 336.1L1141.0 336.7L1142.0 337.4L1143.0 338.0L1144.0 338.6L1145.0 339.2L1146.0 339.8L1147.0 340.3L1148.0 340.9L1149.0 341.4L1150.0 341.9L1151.0 342.4L1152.0 342.9L1153.0 343.3L1154.0 343.8L1155.0 344.2L1156.0 344.6L1157.0 345.0L1158.0 345.3L1159.0 345.7L1160.0 346.0L1161.0 346.3L1162.0 346.5L1163.0 346.8L1164.0 347.1L1165.0 347.3L1166.0 347.6L1167.0 347.8L1168.0 348.0L1169.0 348.2L1170.0 348.4L1171.0 348.7L1172.0 348.9L1173.0 349.0L1174.0 349.2L1175.0 349.4L1176.0 349.6L1177.0 349.8L1178.0 349.9L1179.0 350.1L1180.0 350.2L1181.0 350.4L1182.0 350.5L1183.0 350.7L1184.0 350.8L1185.0 350.9L1186.0 351.1L1187.0 351.2L1188.0 351.3L1189.0 351.4L1190.0 351.5L1191.0 351.6L1192.0 351.7L1193.0 351.8L1194.0 351.9L1195.0 352.1L1196.0 352.2L1197.0 352.3L1198.0 352.4L1199.0 352.5L1200.0 352.6L1201.0 352.7L1202.0 352.8L1203.0 352.9L1204.0 353.0L1205.0 353.1L1206.0 353.2L1207.0 353.2L1208.0 353.3L1209.0 353.4L1210.0 353.5L1211.0 353.6L1212.0 353.7L1213.0 353.7L1214.0 353.8L1215.0 353.9L1216.0 354.0L1217.0 354.0L1218.0 354.1L1219.0 354.1L1220.0 354.2L1221.0 354.2L1222.0 354.3L1223.0 354.3L1224.0 354.4L1225.0 354.4L1226.0 354.4L1227.0 354.5L1228.0 354.5L1229.0 354.5L1230.0 354.5L1231.0 354.5L1232.0 354.5L1233.0 354.5L1234.0 354.4L1235.0 354.4L1236.0 354.3L1237.0 354.3L1238.0 354.2L1239.0 354.1L1240.0 354.0L1241.0 353.7L1242.0 353.1L1243.0 352.2L1244.0 351.1L1245.0 349.8L1246.0 348.5L1246.4 348.0" fill="none" stroke="#80500a" stroke-width="3.3" stroke-linejoin="round" stroke-linecap="round"/>
<path d="M88.0 284.2L89.0 284.2L90.0 284.2L91.0 284.2L92.0 284.2L93.0 284.3L94.0 284.3L95.0 284.3L96.0 284.3L97.0 284.3L98.0 284.3L99.0 284.3L100.0 284.4L101.0 284.4L102.0 284.4L103.0 284.4L104.0 284.4L105.0 284.4L106.0 284.5L107.0 284.5L108.0 284.5L109.0 284.5L110.0 284.5L111.0 284.6L112.0 284.6L113.0 284.6L114.0 284.6L115.0 284.6L116.0 284.7L117.0 284.7L118.0 284.7L119.0 284.7L120.0 284.8L121.0 284.8L122.0 284.8L123.0 284.8L124.0 284.9L125.0 284.9L126.0 284.9L127.0 284.9L128.0 285.0L129.0 285.0L130.0 285.0L131.0 285.0L132.0 285.1L133.0 285.1L134.0 285.1L135.0 285.2L136.0 285.2L137.0 285.2L138.0 285.3L139.0 285.3L140.0 285.4L141.0 285.4L142.0 285.5L143.0 285.5L144.0 285.6L145.0 285.6L146.0 285.7L147.0 285.7L148.0 285.7L149.0 285.8L150.0 285.8L151.0 285.9L152.0 285.9L153.0 285.9L154.0 285.9L155.0 286.0L156.0 286.0L157.0 286.0L158.0 286.0L159.0 286.0L160.0 285.9L161.0 285.7L162.0 285.5L163.0 285.2L164.0 284.8L165.0 284.5L166.0 284.2L167.0 284.0L168.0 283.8L169.0 283.7L170.0 283.7L171.0 283.7L172.0 283.7L173.0 283.7L174.0 283.7L175.0 283.8L176.0 283.8L177.0 283.8L178.0 283.8L179.0 283.9L180.0 283.9L181.0 284.0L182.0 284.0L183.0 284.1L184.0 284.1L185.0 284.2L186.0 284.2L187.0 284.3L188.0 284.4L189.0 284.4L190.0 284.5L191.0 284.6L192.0 284.7L193.0 284.8L194.0 284.9L195.0 285.0L196.0 285.1L197.0 285.3L198.0 285.5L199.0 285.8L200.0 286.2L201.0 286.6L202.0 287.0L203.0 287.5L204.0 287.9L205.0 288.5L206.0 289.1L207.0 289.8L208.0 290.6L209.0 291.4L210.0 292.3L211.0 293.2L212.0 294.2L213.0 295.2L214.0 296.2L215.0 297.2L216.0 298.3L217.0 299.3L218.0 300.3L219.0 301.3L220.0 302.4L221.0 303.3L222.0 304.3L223.0 305.3L224.0 306.3L225.0 307.4L226.0 308.5L227.0 309.7L228.0 310.8L229.0 311.9L230.0 313.0L231.0 314.1L232.0 315.2L233.0 316.2L234.0 317.1L235.0 317.9L236.0 318.7L237.0 319.4L238.0 319.9L239.0 320.4L240.0 320.9L241.0 321.4L242.0 321.8L243.0 322.1L244.0 322.5L245.0 322.9L246.0 323.2L247.0 323.6L248.0 323.9L249.0 324.3L250.0 324.7L251.0 325.1L252.0 325.6L253.0 326.0L254.0 326.5L255.0 327.0L256.0 327.5L257.0 328.1L258.0 328.6L259.0 329.1L260.0 329.7L261.0 330.2L262.0 330.7L263.0 331.2L264.0 331.7L265.0 332.2L266.0 332.7L267.0 333.1L268.0 333.5L269.0 333.9L270.0 334.3L271.0 334.6L272.0 334.9L273.0 335.2L274.0 335.4L275.0 335.6L276.0 335.7L277.0 335.9L278.0 336.1L279.0 336.2L280.0 336.4L281.0 336.5L282.0 336.6L283.0 336.7L284.0 336.7L285.0 336.7L286.0 336.7L287.0 336.6L288.0 336.6L289.0 336.5L290.0 336.3L291.0 336.2L292.0 336.0L293.0 335.9L294.0 335.7L295.0 335.5L296.0 335.3L297.0 335.0L298.0 334.8L299.0 334.5L300.0 334.3L301.0 334.0L302.0 333.7L303.0 333.5L304.0 333.2L305.0 332.9L306.0 332.6L307.0 332.3L308.0 332.1L309.0 331.8L310.0 331.5L311.0 331.3L312.0 331.0L313.0 330.8L314.0 330.5L315.0 330.3L316.0 330.1L317.0 329.9L318.0 329.7L319.0 329.5L320.0 329.3L321.0 329.1L322.0 328.9L323.0 328.7L324.0 328.5L325.0 328.2L326.0 328.0L327.0 327.8L328.0 327.6L329.0 327.4L330.0 327.2L331.0 327.0L332.0 326.8L333.0 326.6L334.0 326.4L335.0 326.2L336.0 326.1L337.0 325.9L338.0 325.7L339.0 325.5L340.0 325.3L341.0 325.1L342.0 325.0L343.0 324.8L344.0 324.6L345.0 324.4L346.0 324.3L347.0 324.1L348.0 324.0L349.0 323.8L350.0 323.7L351.0 323.5L352.0 323.4L353.0 323.2L354.0 323.1L355.0 323.0L356.0 322.8L357.0 322.7L358.0 322.5L359.0 322.4L360.0 322.2L361.0 322.1L362.0 321.9L363.0 321.8L364.0 321.6L365.0 321.5L366.0 321.3L367.0 321.1L368.0 321.0L369.0 320.8L370.0 320.6L371.0 320.4L372.0 320.2L373.0 320.0L374.0 319.8L375.0 319.6L376.0 319.3L377.0 319.1L378.0 318.8L379.0 318.6L380.0 318.3L381.0 318.1L382.0 317.8L383.0 317.5L384.0 317.3L385.0 317.0L386.0 316.7L387.0 316.5L388.0 316.2L389.0 315.9L390.0 315.6L391.0 315.4L392.0 315.1L393.0 314.8L394.0 314.6L395.0 314.3L396.0 314.1L397.0 313.8L398.0 313.6L399.0 313.3L400.0 313.1L401.0 312.9L402.0 312.7L403.0 312.5L404.0 312.3L405.0 312.1L406.0 311.9L407.0 311.7L408.0 311.6L409.0 311.4L410.0 311.3L411.0 311.2L412.0 311.0L413.0 310.9L414.0 310.8L415.0 310.6L416.0 310.5L417.0 310.4L418.0 310.3L419.0 310.2L420.0 310.2L421.0 310.1L422.0 310.1L423.0 310.1L424.0 310.1L425.0 310.2L426.0 310.3L427.0 310.4L428.0 310.5L429.0 310.6L430.0 310.8L431.0 311.1L432.0 311.6L433.0 312.3L434.0 313.0L435.0 313.5L436.0 314.0L437.0 314.1L438.0 313.9L439.0 313.5L440.0 312.9L441.0 312.1L442.0 311.3L443.0 310.4L444.0 309.5L445.0 308.7L446.0 307.9L447.0 307.4L448.0 307.1L449.0 307.0L450.0 307.0L451.0 307.0L452.0 307.1L453.0 307.1L454.0 307.1L455.0 307.2L456.0 307.2L457.0 307.2L458.0 307.3L459.0 307.3L460.0 307.3L461.0 307.2L462.0 307.1L463.0 306.8L464.0 306.5L465.0 306.2L466.0 305.8L467.0 305.5L468.0 305.1L469.0 304.8L470.0 304.6L471.0 304.4L472.0 304.2L473.0 304.1L474.0 303.9L475.0 303.8L476.0 303.6L477.0 303.5L478.0 303.3L479.0 303.2L480.0 303.1L481.0 303.0L482.0 302.9L483.0 302.8L484.0 302.6L485.0 302.5L486.0 302.4L487.0 302.3L488.0 302.2L489.0 302.1L490.0 302.0L491.0 301.9L492.0 301.8L493.0 301.7L494.0 301.6L495.0 301.5L496.0 301.5L497.0 301.4L498.0 301.3L499.0 301.2L500.0 301.1L501.0 301.0L502.0 300.9L503.0 300.8L504.0 300.8L505.0 300.7L506.0 300.6L507.0 300.5L508.0 300.4L509.0 300.4L510.0 300.3L511.0 300.2L512.0 300.1L513.0 300.1L514.0 300.0L515.0 299.9L516.0 299.8L517.0 299.8L518.0 299.7L519.0 299.6L520.0 299.5L521.0 299.5L522.0 299.4L523.0 299.3L524.0 299.2L525.0 299.2L526.0 299.1L527.0 299.0L528.0 299.0L529.0 298.9L530.0 298.8L531.0 298.8L532.0 298.7L533.0 298.6L534.0 298.6L535.0 298.5L536.0 298.4L537.0 298.4L538.0 298.3L539.0 298.2L540.0 298.2L541.0 298.1L542.0 298.1L543.0 298.0L544.0 297.9L545.0 297.9L546.0 297.8L547.0 297.8L548.0 297.7L549.0 297.6L550.0 297.6L551.0 297.5L552.0 297.5L553.0 297.4L554.0 297.4L555.0 297.3L556.0 297.2L557.0 297.2L558.0 297.1L559.0 297.1L560.0 297.0L561.0 297.0L562.0 296.9L563.0 296.8L564.0 296.8L565.0 296.7L566.0 296.7L567.0 296.6L568.0 296.6L569.0 296.5L570.0 296.4L571.0 296.4L572.0 296.3L573.0 296.3L574.0 296.2L575.0 296.2L576.0 296.1L577.0 296.0L578.0 296.0L579.0 295.9L580.0 295.9L581.0 295.8L582.0 295.8L583.0 295.7L584.0 295.7L585.0 295.6L586.0 295.5L587.0 295.5L588.0 295.4L589.0 295.4L590.0 295.3L591.0 295.3L592.0 295.2L593.0 295.2L594.0 295.1L595.0 295.1L596.0 295.0L597.0 295.0L598.0 294.9L599.0 294.9L600.0 294.8L601.0 294.7L602.0 294.7L603.0 294.6L604.0 294.6L605.0 294.5L606.0 294.5L607.0 294.4L608.0 294.4L609.0 294.3L610.0 294.3L611.0 294.3L612.0 294.2L613.0 294.2L614.0 294.1L615.0 294.1L616.0 294.0L617.0 294.0L618.0 293.9L619.0 293.9L620.0 293.8L621.0 293.8L622.0 293.7L623.0 293.7L624.0 293.6L625.0 293.6L626.0 293.5L627.0 293.5L628.0 293.4L629.0 293.4L630.0 293.3L631.0 293.2L632.0 293.2L633.0 293.1L634.0 293.1L635.0 293.0L636.0 292.9L637.0 292.9L638.0 292.8L639.0 292.7L640.0 292.7L641.0 292.6L642.0 292.5L643.0 292.5L644.0 292.4L645.0 292.4L646.0 292.3L647.0 292.2L648.0 292.2L649.0 292.1L650.0 292.0L651.0 292.0L652.0 291.9L653.0 291.8L654.0 291.8L655.0 291.7L656.0 291.7L657.0 291.6L658.0 291.6L659.0 291.5L660.0 291.5L661.0 291.5L662.0 291.4L663.0 291.4L664.0 291.3L665.0 291.3L666.0 291.3L667.0 291.2L668.0 291.2L669.0 291.2L670.0 291.2L671.0 291.1L672.0 291.1L673.0 291.1L674.0 291.0L675.0 291.0L676.0 291.0L677.0 291.0L678.0 290.9L679.0 290.9L680.0 290.9L681.0 290.8L682.0 290.8L683.0 290.8L684.0 290.8L685.0 290.7L686.0 290.7L687.0 290.7L688.0 290.6L689.0 290.6L690.0 290.5L691.0 290.5L692.0 290.5L693.0 290.4L694.0 290.4L695.0 290.3L696.0 290.3L697.0 290.2L698.0 290.2L699.0 290.1L700.0 290.1L701.0 290.0L702.0 290.0L703.0 290.0L704.0 289.9L705.0 289.8L706.0 289.8L707.0 289.7L708.0 289.7L709.0 289.6L710.0 289.6L711.0 289.5L712.0 289.5L713.0 289.4L714.0 289.4L715.0 289.3L716.0 289.3L717.0 289.2L718.0 289.2L719.0 289.1L720.0 289.1L721.0 289.0L722.0 289.0L723.0 288.9L724.0 288.8L725.0 288.8L726.0 288.7L727.0 288.7L728.0 288.6L729.0 288.6L730.0 288.5L731.0 288.5L732.0 288.4L733.0 288.4L734.0 288.3L735.0 288.3L736.0 288.2L737.0 288.2L738.0 288.1L739.0 288.1L740.0 288.0L741.0 288.0L742.0 287.9L743.0 287.9L744.0 287.8L745.0 287.8L746.0 287.7L747.0 287.7L748.0 287.6L749.0 287.6L750.0 287.5L751.0 287.5L752.0 287.4L753.0 287.4L754.0 287.3L755.0 287.3L756.0 287.2L757.0 287.2L758.0 287.1L759.0 287.1L760.0 287.0L761.0 286.9L762.0 286.9L763.0 286.8L764.0 286.8L765.0 286.7L766.0 286.7L767.0 286.6L768.0 286.5L769.0 286.5L770.0 286.4L771.0 286.3L772.0 286.3L773.0 286.2L774.0 286.1L775.0 286.0L776.0 286.0L777.0 285.9L778.0 285.8L779.0 285.7L780.0 285.7L781.0 285.6L782.0 285.5L783.0 285.4L784.0 285.3L785.0 285.3L786.0 285.2L787.0 285.1L788.0 285.0L789.0 285.0L790.0 284.9L791.0 284.8L792.0 284.8L793.0 284.7L794.0 284.6L795.0 284.6L796.0 284.5L797.0 284.5L798.0 284.4L799.0 284.4L800.0 284.3L801.0 284.3L802.0 284.3L803.0 284.2L804.0 284.2L805.0 284.2L806.0 284.1L807.0 284.1L808.0 284.1L809.0 284.1L810.0 284.0L811.0 284.0L812.0 284.0L813.0 284.0L814.0 284.0L815.0 283.9L816.0 283.9L817.0 283.9L818.0 283.9L819.0 283.9L820.0 283.8L821.0 283.8L822.0 283.8L823.0 283.8L824.0 283.8L825.0 283.8L826.0 283.8L827.0 283.8L828.0 283.8L829.0 283.9L830.0 283.9L831.0 284.0L832.0 284.2L833.0 284.3L834.0 284.5L835.0 284.6L836.0 284.8L837.0 285.1L838.0 285.3L839.0 285.5L840.0 286.0L841.0 286.6L842.0 287.4L843.0 288.3L844.0 289.2L845.0 290.2L846.0 291.3L847.0 292.3L848.0 293.3L849.0 294.2L850.0 295.0L851.0 295.8L852.0 296.7L853.0 297.6L854.0 298.4L855.0 299.2L856.0 299.8L857.0 300.2L858.0 300.4L859.0 300.3L860.0 300.1L861.0 299.7L862.0 299.2L863.0 298.6L864.0 298.0L865.0 297.3L866.0 296.6L867.0 296.0L868.0 295.3L869.0 294.8L870.0 294.3L871.0 293.9L872.0 293.4L873.0 293.0L874.0 292.5L875.0 292.0L876.0 291.6L877.0 291.1L878.0 290.6L879.0 290.2L880.0 289.8L881.0 289.4L882.0 289.0L883.0 288.6L884.0 288.2L885.0 287.9L886.0 287.6L887.0 287.3L888.0 287.0L889.0 286.8L890.0 286.6L891.0 286.5L892.0 286.3L893.0 286.2L894.0 286.1L895.0 286.0L896.0 285.9L897.0 285.8L898.0 285.7L899.0 285.6L900.0 285.5L901.0 285.4L902.0 285.3L903.0 285.3L904.0 285.2L905.0 285.2L906.0 285.2L907.0 285.4L908.0 286.9L909.0 288.8L910.0 290.3L911.0 290.4L912.0 290.0L913.0 289.2L914.0 288.4L915.0 287.5L916.0 286.8L917.0 286.5L918.0 286.4L919.0 286.3L920.0 286.2L921.0 286.1L922.0 286.0L923.0 285.9L924.0 285.8L925.0 285.7L926.0 285.6L927.0 285.5L928.0 285.5L929.0 285.4L930.0 285.3L931.0 285.2L932.0 285.2L933.0 285.1L934.0 285.1L935.0 285.0L936.0 285.0L937.0 284.9L938.0 284.9L939.0 284.8L940.0 284.8L941.0 284.7L942.0 284.7L943.0 284.7L944.0 284.6L945.0 284.6L946.0 284.6L947.0 284.5L948.0 284.5L949.0 284.5L950.0 284.5L951.0 284.5L952.0 284.5L953.0 284.4L954.0 284.4L955.0 284.4L956.0 284.4L957.0 284.4L958.0 284.4L959.0 284.4L960.0 284.4L961.0 284.4L962.0 284.4L963.0 284.4L964.0 284.4L965.0 284.4L966.0 284.5L967.0 284.5L968.0 284.5L969.0 284.5L970.0 284.6L971.0 284.6L972.0 284.6L973.0 284.7L974.0 284.7L975.0 284.8L976.0 284.8L977.0 284.9L978.0 284.9L979.0 285.0L980.0 285.0L981.0 285.1L982.0 285.1L983.0 285.2L984.0 285.2L985.0 285.3L986.0 285.4L987.0 285.4L988.0 285.5L989.0 285.6L990.0 285.6L991.0 285.7L992.0 285.8L993.0 285.8L994.0 285.9L995.0 286.0L996.0 286.1L997.0 286.2L998.0 286.3L999.0 286.4L1000.0 286.6L1001.0 286.7L1002.0 286.8L1003.0 287.0L1004.0 287.2L1005.0 287.3L1006.0 287.5L1007.0 287.7L1008.0 287.9L1009.0 288.1L1010.0 288.3L1011.0 288.5L1012.0 288.7L1013.0 288.9L1014.0 289.1L1015.0 289.3L1016.0 289.6L1017.0 289.8L1018.0 290.0L1019.0 290.2L1020.0 290.5L1021.0 290.7L1022.0 290.9L1023.0 291.1L1024.0 291.4L1025.0 291.6L1026.0 291.8L1027.0 292.1L1028.0 292.3L1029.0 292.5L1030.0 292.8L1031.0 293.0L1032.0 293.3L1033.0 293.5L1034.0 293.8L1035.0 294.1L1036.0 294.4L1037.0 294.6L1038.0 294.9L1039.0 295.2L1040.0 295.5L1041.0 295.8L1042.0 296.1L1043.0 296.5L1044.0 296.8L1045.0 297.1L1046.0 297.5L1047.0 297.9L1048.0 298.2L1049.0 298.6L1050.0 299.0L1051.0 299.4L1052.0 299.8L1053.0 300.3L1054.0 300.7L1055.0 301.2L1056.0 301.7L1057.0 302.3L1058.0 302.8L1059.0 303.4L1060.0 304.0L1061.0 304.6L1062.0 305.2L1063.0 305.9L1064.0 306.6L1065.0 307.2L1066.0 307.9L1067.0 308.7L1068.0 309.4L1069.0 310.2L1070.0 310.9L1071.0 311.7L1072.0 312.5L1073.0 313.3L1074.0 314.1L1075.0 314.9L1076.0 315.8L1077.0 316.6L1078.0 317.5L1079.0 318.5L1080.0 319.5L1081.0 320.6L1082.0 321.7L1083.0 322.8L1084.0 324.0L1085.0 325.1L1086.0 326.3L1087.0 327.5L1088.0 328.7L1089.0 329.8L1090.0 331.0L1091.0 332.1L1092.0 333.1L1093.0 334.1L1094.0 335.1L1095.0 336.1L1096.0 337.1L1097.0 338.2L1098.0 339.3L1099.0 340.5L1100.0 341.8L1101.0 343.2L1102.0 344.8L1103.0 346.6L1104.0 348.5L1105.0 350.7L1106.0 353.1L1107.0 355.6L1108.0 358.2L1109.0 361.0L1110.0 363.8L1111.0 366.8L1112.0 369.8L1113.0 373.1L1114.0 376.9L1115.0 381.2L1116.0 385.8L1117.0 390.5L1118.0 395.0L1119.0 399.1L1120.0 402.6L1121.0 405.3L1122.0 407.7L1123.0 409.9L1124.0 412.0L1125.0 413.9L1126.0 415.8L1127.0 417.4L1128.0 419.0L1129.0 420.5L1130.0 421.8L1131.0 423.0L1132.0 424.1L1133.0 425.2L1134.0 426.2L1135.0 427.1L1136.0 428.0L1137.0 428.9L1138.0 429.7L1139.0 430.5L1140.0 431.2L1141.0 431.9L1142.0 432.6L1143.0 433.3L1144.0 433.9L1145.0 434.5L1146.0 435.1L1147.0 435.6L1148.0 436.2L1149.0 436.7L1150.0 437.3L1151.0 437.8L1152.0 438.3L1153.0 438.8L1154.0 439.3L1155.0 439.8L1156.0 440.3L1157.0 440.8L1158.0 441.3L1159.0 441.8L1160.0 442.2L1161.0 442.7L1162.0 443.1L1163.0 443.5L1164.0 443.9L1165.0 444.3L1166.0 444.7L1167.0 445.1L1168.0 445.4L1169.0 445.7L1170.0 446.0L1171.0 446.3L1172.0 446.6L1173.0 446.8L1174.0 447.0L1175.0 447.2L1176.0 447.4L1177.0 447.6L1178.0 447.7L1179.0 447.9L1180.0 448.0L1181.0 448.1L1182.0 448.3L1183.0 448.4L1184.0 448.5L1185.0 448.6L1186.0 448.7L1187.0 448.9L1188.0 449.0L1189.0 449.1L1190.0 449.2L1191.0 449.2L1192.0 449.3L1193.0 449.4L1194.0 449.5L1195.0 449.6L1196.0 449.7L1197.0 449.7L1198.0 449.8L1199.0 449.9L1200.0 450.0L1201.0 450.0L1202.0 450.1L1203.0 450.2L1204.0 450.2L1205.0 450.3L1206.0 450.4L1207.0 450.4L1208.0 450.5L1209.0 450.6L1210.0 450.6L1211.0 450.7L1212.0 450.7L1213.0 450.8L1214.0 450.9L1215.0 450.9L1216.0 451.0L1217.0 451.0L1218.0 451.1L1219.0 451.2L1220.0 451.2L1221.0 451.3L1222.0 451.3L1223.0 451.3L1224.0 451.4L1225.0 451.4L1226.0 451.4L1227.0 451.5L1228.0 451.5L1229.0 451.5L1230.0 451.5L1231.0 451.5L1232.0 451.5L1233.0 451.4L1234.0 451.3L1235.0 451.2L1236.0 451.0L1237.0 450.8L1238.0 450.5L1239.0 450.3L1240.0 450.0L1241.0 449.6L1242.0 449.0L1243.0 448.1L1244.0 447.2L1245.0 446.2L1246.0 445.1L1246.4 444.6" fill="none" stroke="#9a0000" stroke-width="3.3" stroke-linejoin="round" stroke-linecap="round"/>
<path d="M88.0 372.8L89.0 372.8L90.0 372.8L91.0 372.8L92.0 372.8L93.0 372.8L94.0 372.8L95.0 372.9L96.0 372.9L97.0 372.9L98.0 372.9L99.0 372.9L100.0 372.9L101.0 372.9L102.0 372.9L103.0 372.9L104.0 372.9L105.0 372.9L106.0 372.9L107.0 373.0L108.0 373.0L109.0 373.0L110.0 373.0L111.0 373.0L112.0 373.0L113.0 373.0L114.0 373.0L115.0 373.0L116.0 373.0L117.0 373.1L118.0 373.1L119.0 373.1L120.0 373.1L121.0 373.1L122.0 373.1L123.0 373.1L124.0 373.1L125.0 373.1L126.0 373.2L127.0 373.2L128.0 373.2L129.0 373.2L130.0 373.2L131.0 373.2L132.0 373.2L133.0 373.2L134.0 373.3L135.0 373.3L136.0 373.3L137.0 373.3L138.0 373.3L139.0 373.3L140.0 373.4L141.0 373.4L142.0 373.4L143.0 373.4L144.0 373.4L145.0 373.5L146.0 373.5L147.0 373.5L148.0 373.5L149.0 373.5L150.0 373.5L151.0 373.5L152.0 373.6L153.0 373.6L154.0 373.6L155.0 373.6L156.0 373.6L157.0 373.6L158.0 373.6L159.0 373.6L160.0 373.5L161.0 373.2L162.0 372.8L163.0 372.4L164.0 371.9L165.0 371.4L166.0 371.0L167.0 370.6L168.0 370.3L169.0 370.2L170.0 370.2L171.0 370.2L172.0 370.2L173.0 370.3L174.0 370.3L175.0 370.4L176.0 370.5L177.0 370.5L178.0 370.6L179.0 370.7L180.0 370.8L181.0 370.9L182.0 371.0L183.0 371.2L184.0 371.3L185.0 371.4L186.0 371.5L187.0 371.7L188.0 371.8L189.0 371.9L190.0 372.1L191.0 372.2L192.0 372.3L193.0 372.5L194.0 372.6L195.0 372.7L196.0 372.9L197.0 373.0L198.0 373.1L199.0 373.3L200.0 373.4L201.0 373.6L202.0 373.8L203.0 374.0L204.0 374.3L205.0 374.8L206.0 375.4L207.0 376.2L208.0 377.0L209.0 378.0L210.0 379.0L211.0 380.1L212.0 381.2L213.0 382.3L214.0 383.4L215.0 384.5L216.0 385.5L217.0 386.5L218.0 387.5L219.0 388.5L220.0 389.6L221.0 390.7L222.0 391.8L223.0 393.0L224.0 394.1L225.0 395.3L226.0 396.4L227.0 397.6L228.0 398.7L229.0 399.8L230.0 401.0L231.0 402.0L232.0 403.1L233.0 404.1L234.0 405.1L235.0 406.1L236.0 407.0L237.0 407.9L238.0 408.7L239.0 409.5L240.0 410.3L241.0 411.1L242.0 411.9L243.0 412.7L244.0 413.5L245.0 414.3L246.0 415.1L247.0 415.8L248.0 416.6L249.0 417.3L250.0 418.0L251.0 418.7L252.0 419.4L253.0 420.0L254.0 420.6L255.0 421.2L256.0 421.8L257.0 422.4L258.0 422.9L259.0 423.4L260.0 423.8L261.0 424.3L262.0 424.7L263.0 425.0L264.0 425.3L265.0 425.6L266.0 426.0L267.0 426.3L268.0 426.6L269.0 426.9L270.0 427.1L271.0 427.4L272.0 427.6L273.0 427.9L274.0 428.1L275.0 428.2L276.0 428.4L277.0 428.5L278.0 428.6L279.0 428.6L280.0 428.6L281.0 428.6L282.0 428.5L283.0 428.4L284.0 428.3L285.0 428.2L286.0 428.1L287.0 427.9L288.0 427.8L289.0 427.6L290.0 427.4L291.0 427.2L292.0 427.1L293.0 426.9L294.0 426.7L295.0 426.5L296.0 426.3L297.0 426.1L298.0 425.8L299.0 425.5L300.0 425.2L301.0 424.9L302.0 424.6L303.0 424.2L304.0 423.9L305.0 423.5L306.0 423.1L307.0 422.8L308.0 422.4L309.0 422.0L310.0 421.7L311.0 421.4L312.0 421.0L313.0 420.7L314.0 420.5L315.0 420.2L316.0 420.0L317.0 419.8L318.0 419.6L319.0 419.4L320.0 419.2L321.0 419.1L322.0 418.9L323.0 418.7L324.0 418.6L325.0 418.4L326.0 418.3L327.0 418.1L328.0 418.0L329.0 417.9L330.0 417.7L331.0 417.6L332.0 417.5L333.0 417.3L334.0 417.2L335.0 417.1L336.0 416.9L337.0 416.8L338.0 416.6L339.0 416.5L340.0 416.4L341.0 416.2L342.0 416.0L343.0 415.9L344.0 415.7L345.0 415.6L346.0 415.4L347.0 415.2L348.0 415.1L349.0 414.9L350.0 414.8L351.0 414.6L352.0 414.4L353.0 414.3L354.0 414.1L355.0 414.0L356.0 413.8L357.0 413.6L358.0 413.5L359.0 413.3L360.0 413.1L361.0 412.9L362.0 412.8L363.0 412.6L364.0 412.4L365.0 412.2L366.0 412.1L367.0 411.9L368.0 411.7L369.0 411.5L370.0 411.3L371.0 411.1L372.0 410.9L373.0 410.6L374.0 410.4L375.0 410.1L376.0 409.9L377.0 409.6L378.0 409.3L379.0 409.0L380.0 408.7L381.0 408.4L382.0 408.1L383.0 407.8L384.0 407.5L385.0 407.2L386.0 406.9L387.0 406.6L388.0 406.2L389.0 405.9L390.0 405.6L391.0 405.3L392.0 405.0L393.0 404.8L394.0 404.5L395.0 404.2L396.0 404.0L397.0 403.7L398.0 403.5L399.0 403.3L400.0 403.1L401.0 402.9L402.0 402.7L403.0 402.6L404.0 402.4L405.0 402.3L406.0 402.2L407.0 402.2L408.0 402.1L409.0 402.1L410.0 402.1L411.0 402.1L412.0 402.1L413.0 402.1L414.0 402.1L415.0 402.1L416.0 402.1L417.0 402.1L418.0 402.1L419.0 402.1L420.0 402.1L421.0 402.1L422.0 402.1L423.0 402.1L424.0 402.1L425.0 402.2L426.0 402.3L427.0 402.5L428.0 402.6L429.0 402.8L430.0 403.0L431.0 403.3L432.0 403.9L433.0 404.6L434.0 405.4L435.0 406.0L436.0 406.5L437.0 406.6L438.0 406.4L439.0 406.0L440.0 405.4L441.0 404.6L442.0 403.8L443.0 402.9L444.0 402.0L445.0 401.2L446.0 400.4L447.0 399.9L448.0 399.6L449.0 399.5L450.0 399.5L451.0 399.6L452.0 399.7L453.0 399.9L454.0 400.0L455.0 400.1L456.0 400.3L457.0 400.4L458.0 400.5L459.0 400.6L460.0 400.6L461.0 400.3L462.0 399.4L463.0 398.3L464.0 397.2L465.0 396.2L466.0 395.7L467.0 395.5L468.0 395.2L469.0 395.0L470.0 394.8L471.0 394.6L472.0 394.4L473.0 394.3L474.0 394.1L475.0 394.0L476.0 393.9L477.0 393.8L478.0 393.6L479.0 393.5L480.0 393.4L481.0 393.3L482.0 393.2L483.0 393.0L484.0 392.9L485.0 392.8L486.0 392.7L487.0 392.6L488.0 392.5L489.0 392.4L490.0 392.3L491.0 392.2L492.0 392.1L493.0 392.0L494.0 391.9L495.0 391.8L496.0 391.7L497.0 391.6L498.0 391.5L499.0 391.4L500.0 391.4L501.0 391.3L502.0 391.2L503.0 391.1L504.0 391.0L505.0 391.0L506.0 390.9L507.0 390.8L508.0 390.7L509.0 390.6L510.0 390.6L511.0 390.5L512.0 390.4L513.0 390.3L514.0 390.3L515.0 390.2L516.0 390.1L517.0 390.1L518.0 390.0L519.0 389.9L520.0 389.8L521.0 389.8L522.0 389.7L523.0 389.6L524.0 389.6L525.0 389.5L526.0 389.4L527.0 389.4L528.0 389.3L529.0 389.2L530.0 389.2L531.0 389.1L532.0 389.1L533.0 389.0L534.0 388.9L535.0 388.9L536.0 388.8L537.0 388.8L538.0 388.7L539.0 388.6L540.0 388.6L541.0 388.5L542.0 388.5L543.0 388.4L544.0 388.4L545.0 388.3L546.0 388.3L547.0 388.2L548.0 388.1L549.0 388.1L550.0 388.0L551.0 388.0L552.0 387.9L553.0 387.9L554.0 387.8L555.0 387.8L556.0 387.7L557.0 387.7L558.0 387.6L559.0 387.6L560.0 387.5L561.0 387.4L562.0 387.4L563.0 387.3L564.0 387.3L565.0 387.2L566.0 387.2L567.0 387.1L568.0 387.1L569.0 387.0L570.0 387.0L571.0 386.9L572.0 386.9L573.0 386.8L574.0 386.8L575.0 386.8L576.0 386.7L577.0 386.7L578.0 386.6L579.0 386.6L580.0 386.5L581.0 386.5L582.0 386.4L583.0 386.4L584.0 386.3L585.0 386.3L586.0 386.2L587.0 386.2L588.0 386.1L589.0 386.1L590.0 386.0L591.0 386.0L592.0 385.9L593.0 385.9L594.0 385.8L595.0 385.8L596.0 385.7L597.0 385.7L598.0 385.6L599.0 385.6L600.0 385.5L601.0 385.5L602.0 385.4L603.0 385.4L604.0 385.3L605.0 385.3L606.0 385.2L607.0 385.2L608.0 385.1L609.0 385.0L610.0 385.0L611.0 384.9L612.0 384.9L613.0 384.8L614.0 384.8L615.0 384.7L616.0 384.7L617.0 384.6L618.0 384.6L619.0 384.5L620.0 384.5L621.0 384.4L622.0 384.4L623.0 384.3L624.0 384.3L625.0 384.2L626.0 384.2L627.0 384.1L628.0 384.0L629.0 384.0L630.0 384.0L631.0 383.9L632.0 383.9L633.0 383.8L634.0 383.8L635.0 383.7L636.0 383.7L637.0 383.6L638.0 383.6L639.0 383.5L640.0 383.5L641.0 383.4L642.0 383.4L643.0 383.4L644.0 383.3L645.0 383.3L646.0 383.2L647.0 383.2L648.0 383.1L649.0 383.1L650.0 383.1L651.0 383.0L652.0 383.0L653.0 382.9L654.0 382.9L655.0 382.8L656.0 382.8L657.0 382.7L658.0 382.7L659.0 382.6L660.0 382.6L661.0 382.6L662.0 382.5L663.0 382.4L664.0 382.4L665.0 382.3L666.0 382.3L667.0 382.2L668.0 382.2L669.0 382.1L670.0 382.1L671.0 382.0L672.0 382.0L673.0 381.9L674.0 381.9L675.0 381.8L676.0 381.7L677.0 381.7L678.0 381.6L679.0 381.6L680.0 381.5L681.0 381.4L682.0 381.4L683.0 381.3L684.0 381.3L685.0 381.2L686.0 381.1L687.0 381.1L688.0 381.0L689.0 381.0L690.0 380.9L691.0 380.8L692.0 380.8L693.0 380.7L694.0 380.7L695.0 380.6L696.0 380.5L697.0 380.5L698.0 380.4L699.0 380.4L700.0 380.3L701.0 380.2L702.0 380.2L703.0 380.1L704.0 380.1L705.0 380.0L706.0 379.9L707.0 379.9L708.0 379.8L709.0 379.7L710.0 379.7L711.0 379.6L712.0 379.5L713.0 379.5L714.0 379.4L715.0 379.3L716.0 379.3L717.0 379.2L718.0 379.1L719.0 379.1L720.0 379.0L721.0 378.9L722.0 378.9L723.0 378.8L724.0 378.7L725.0 378.6L726.0 378.6L727.0 378.5L728.0 378.4L729.0 378.3L730.0 378.3L731.0 378.2L732.0 378.1L733.0 378.0L734.0 377.9L735.0 377.9L736.0 377.8L737.0 377.7L738.0 377.6L739.0 377.5L740.0 377.4L741.0 377.4L742.0 377.3L743.0 377.2L744.0 377.1L745.0 377.0L746.0 376.9L747.0 376.8L748.0 376.7L749.0 376.7L750.0 376.6L751.0 376.5L752.0 376.4L753.0 376.3L754.0 376.2L755.0 376.1L756.0 376.0L757.0 375.9L758.0 375.8L759.0 375.8L760.0 375.7L761.0 375.6L762.0 375.5L763.0 375.4L764.0 375.3L765.0 375.2L766.0 375.1L767.0 375.1L768.0 375.0L769.0 374.9L770.0 374.8L771.0 374.7L772.0 374.6L773.0 374.5L774.0 374.4L775.0 374.3L776.0 374.2L777.0 374.1L778.0 374.0L779.0 373.9L780.0 373.8L781.0 373.7L782.0 373.6L783.0 373.5L784.0 373.4L785.0 373.3L786.0 373.2L787.0 373.1L788.0 373.0L789.0 372.9L790.0 372.8L791.0 372.8L792.0 372.7L793.0 372.6L794.0 372.5L795.0 372.4L796.0 372.4L797.0 372.3L798.0 372.2L799.0 372.2L800.0 372.1L801.0 372.0L802.0 372.0L803.0 371.9L804.0 371.9L805.0 371.8L806.0 371.8L807.0 371.8L808.0 371.7L809.0 371.7L810.0 371.6L811.0 371.6L812.0 371.5L813.0 371.5L814.0 371.5L815.0 371.4L816.0 371.4L817.0 371.4L818.0 371.4L819.0 371.3L820.0 371.3L821.0 371.3L822.0 371.3L823.0 371.3L824.0 371.3L825.0 371.4L826.0 371.5L827.0 371.7L828.0 371.9L829.0 372.1L830.0 372.4L831.0 372.7L832.0 373.0L833.0 373.3L834.0 373.6L835.0 373.9L836.0 374.3L837.0 374.7L838.0 375.2L839.0 375.8L840.0 376.4L841.0 377.1L842.0 377.9L843.0 378.8L844.0 380.0L845.0 381.5L846.0 383.1L847.0 384.8L848.0 386.4L849.0 387.8L850.0 389.0L851.0 390.0L852.0 391.1L853.0 392.2L854.0 393.1L855.0 393.8L856.0 394.2L857.0 394.3L858.0 394.1L859.0 393.8L860.0 393.4L861.0 392.8L862.0 392.1L863.0 391.4L864.0 390.6L865.0 389.8L866.0 389.0L867.0 388.2L868.0 387.5L869.0 386.8L870.0 386.3L871.0 385.8L872.0 385.3L873.0 384.9L874.0 384.4L875.0 384.0L876.0 383.6L877.0 383.1L878.0 382.7L879.0 382.3L880.0 381.8L881.0 381.3L882.0 380.7L883.0 380.1L884.0 379.4L885.0 378.8L886.0 378.1L887.0 377.5L888.0 376.9L889.0 376.3L890.0 375.8L891.0 375.5L892.0 375.2L893.0 375.0L894.0 375.0L895.0 375.0L896.0 375.1L897.0 375.2L898.0 375.3L899.0 375.5L900.0 375.6L901.0 375.8L902.0 376.0L903.0 376.2L904.0 376.4L905.0 376.8L906.0 377.3L907.0 377.8L908.0 378.3L909.0 378.7L910.0 379.0L911.0 379.2L912.0 379.3L913.0 379.3L914.0 379.3L915.0 379.3L916.0 379.3L917.0 379.3L918.0 379.3L919.0 379.2L920.0 379.2L921.0 379.2L922.0 379.2L923.0 379.2L924.0 379.1L925.0 379.1L926.0 379.1L927.0 379.1L928.0 379.0L929.0 379.0L930.0 378.9L931.0 378.7L932.0 378.3L933.0 377.9L934.0 377.4L935.0 376.9L936.0 376.4L937.0 375.8L938.0 375.2L939.0 374.6L940.0 374.0L941.0 373.5L942.0 373.1L943.0 372.7L944.0 372.4L945.0 372.3L946.0 372.2L947.0 372.3L948.0 372.6L949.0 372.9L950.0 373.3L951.0 373.7L952.0 374.1L953.0 374.5L954.0 374.7L955.0 374.8L956.0 374.7L957.0 374.5L958.0 374.1L959.0 373.7L960.0 373.2L961.0 372.8L962.0 372.3L963.0 372.0L964.0 371.7L965.0 371.6L966.0 371.6L967.0 371.7L968.0 371.8L969.0 371.9L970.0 372.0L971.0 372.2L972.0 372.4L973.0 372.6L974.0 372.8L975.0 373.0L976.0 373.2L977.0 373.4L978.0 373.5L979.0 373.7L980.0 373.8L981.0 373.9L982.0 373.9L983.0 373.8L984.0 373.6L985.0 373.2L986.0 372.7L987.0 372.2L988.0 371.8L989.0 371.6L990.0 371.5L991.0 371.4L992.0 371.3L993.0 371.2L994.0 371.2L995.0 371.1L996.0 371.1L997.0 371.0L998.0 371.0L999.0 371.0L1000.0 371.0L1001.0 371.1L1002.0 371.2L1003.0 371.3L1004.0 371.5L1005.0 371.7L1006.0 371.9L1007.0 372.1L1008.0 372.3L1009.0 372.5L1010.0 372.8L1011.0 373.0L1012.0 373.2L1013.0 373.5L1014.0 373.7L1015.0 374.0L1016.0 374.3L1017.0 374.6L1018.0 375.0L1019.0 375.3L1020.0 375.7L1021.0 376.0L1022.0 376.4L1023.0 376.8L1024.0 377.1L1025.0 377.5L1026.0 377.9L1027.0 378.3L1028.0 378.7L1029.0 379.1L1030.0 379.5L1031.0 379.9L1032.0 380.3L1033.0 380.7L1034.0 381.1L1035.0 381.4L1036.0 381.8L1037.0 382.2L1038.0 382.5L1039.0 382.9L1040.0 383.2L1041.0 383.5L1042.0 383.9L1043.0 384.2L1044.0 384.5L1045.0 384.8L1046.0 385.1L1047.0 385.4L1048.0 385.8L1049.0 386.1L1050.0 386.4L1051.0 386.8L1052.0 387.2L1053.0 387.6L1054.0 388.0L1055.0 388.4L1056.0 388.8L1057.0 389.3L1058.0 389.8L1059.0 390.4L1060.0 391.0L1061.0 391.6L1062.0 392.3L1063.0 393.0L1064.0 393.8L1065.0 394.6L1066.0 395.4L1067.0 396.2L1068.0 397.0L1069.0 397.9L1070.0 398.8L1071.0 399.7L1072.0 400.6L1073.0 401.5L1074.0 402.4L1075.0 403.3L1076.0 404.2L1077.0 405.0L1078.0 405.9L1079.0 406.7L1080.0 407.6L1081.0 408.4L1082.0 409.3L1083.0 410.1L1084.0 411.0L1085.0 411.8L1086.0 412.7L1087.0 413.6L1088.0 414.6L1089.0 415.6L1090.0 416.6L1091.0 417.7L1092.0 418.9L1093.0 420.1L1094.0 421.3L1095.0 422.6L1096.0 424.0L1097.0 425.6L1098.0 427.4L1099.0 429.4L1100.0 431.5L1101.0 433.8L1102.0 436.1L1103.0 438.6L1104.0 441.2L1105.0 443.8L1106.0 446.4L1107.0 449.1L1108.0 451.9L1109.0 454.9L1110.0 458.2L1111.0 461.6L1112.0 465.1L1113.0 468.7L1114.0 472.3L1115.0 475.9L1116.0 479.3L1117.0 482.7L1118.0 485.8L1119.0 488.7L1120.0 491.4L1121.0 493.7L1122.0 495.8L1123.0 498.0L1124.0 500.0L1125.0 501.9L1126.0 503.8L1127.0 505.5L1128.0 507.2L1129.0 508.7L1130.0 510.1L1131.0 511.4L1132.0 512.5L1133.0 513.6L1134.0 514.6L1135.0 515.7L1136.0 516.7L1137.0 517.6L1138.0 518.5L1139.0 519.4L1140.0 520.3L1141.0 521.1L1142.0 521.9L1143.0 522.7L1144.0 523.4L1145.0 524.2L1146.0 524.8L1147.0 525.5L1148.0 526.1L1149.0 526.6L1150.0 527.2L1151.0 527.7L1152.0 528.1L1153.0 528.5L1154.0 528.9L1155.0 529.3L1156.0 529.7L1157.0 530.0L1158.0 530.4L1159.0 530.7L1160.0 531.0L1161.0 531.3L1162.0 531.6L1163.0 531.9L1164.0 532.2L1165.0 532.4L1166.0 532.7L1167.0 532.9L1168.0 533.1L1169.0 533.4L1170.0 533.5L1171.0 533.7L1172.0 533.9L1173.0 534.0L1174.0 534.2L1175.0 534.3L1176.0 534.4L1177.0 534.5L1178.0 534.6L1179.0 534.7L1180.0 534.7L1181.0 534.8L1182.0 534.9L1183.0 534.9L1184.0 535.0L1185.0 535.1L1186.0 535.1L1187.0 535.2L1188.0 535.2L1189.0 535.3L1190.0 535.3L1191.0 535.4L1192.0 535.4L1193.0 535.4L1194.0 535.5L1195.0 535.5L1196.0 535.6L1197.0 535.6L1198.0 535.6L1199.0 535.7L1200.0 535.7L1201.0 535.7L1202.0 535.8L1203.0 535.8L1204.0 535.9L1205.0 535.9L1206.0 535.9L1207.0 536.0L1208.0 536.0L1209.0 536.1L1210.0 536.1L1211.0 536.2L1212.0 536.2L1213.0 536.3L1214.0 536.4L1215.0 536.4L1216.0 536.5L1217.0 536.6L1218.0 536.7L1219.0 536.8L1220.0 536.9L1221.0 537.0L1222.0 537.2L1223.0 537.3L1224.0 537.5L1225.0 537.6L1226.0 537.8L1227.0 538.0L1228.0 538.1L1229.0 538.2L1230.0 538.4L1231.0 538.5L1232.0 538.5L1233.0 538.6L1234.0 538.6L1235.0 538.5L1236.0 538.2L1237.0 537.8L1238.0 537.2L1239.0 536.5L1240.0 535.7L1241.0 534.8L1242.0 533.8L1243.0 532.8L1244.0 531.7L1245.0 530.5L1246.0 529.4L1246.4 528.9" fill="none" stroke="#c85f00" stroke-width="3.3" stroke-linejoin="round" stroke-linecap="round"/>
<path d="M88.0 465.1L89.0 465.1L90.0 465.2L91.0 465.2L92.0 465.2L93.0 465.2L94.0 465.3L95.0 465.3L96.0 465.3L97.0 465.4L98.0 465.4L99.0 465.4L100.0 465.5L101.0 465.5L102.0 465.5L103.0 465.6L104.0 465.6L105.0 465.6L106.0 465.7L107.0 465.7L108.0 465.7L109.0 465.8L110.0 465.8L111.0 465.8L112.0 465.9L113.0 465.9L114.0 465.9L115.0 466.0L116.0 466.0L117.0 466.0L118.0 466.1L119.0 466.1L120.0 466.1L121.0 466.2L122.0 466.2L123.0 466.2L124.0 466.3L125.0 466.3L126.0 466.4L127.0 466.4L128.0 466.4L129.0 466.5L130.0 466.5L131.0 466.5L132.0 466.6L133.0 466.6L134.0 466.7L135.0 466.7L136.0 466.8L137.0 466.8L138.0 466.9L139.0 466.9L140.0 467.0L141.0 467.1L142.0 467.1L143.0 467.2L144.0 467.2L145.0 467.3L146.0 467.3L147.0 467.4L148.0 467.4L149.0 467.5L150.0 467.5L151.0 467.5L152.0 467.6L153.0 467.6L154.0 467.6L155.0 467.7L156.0 467.7L157.0 467.7L158.0 467.7L159.0 467.7L160.0 467.7L161.0 467.7L162.0 467.6L163.0 467.6L164.0 467.5L165.0 467.5L166.0 467.4L167.0 467.4L168.0 467.3L169.0 467.3L170.0 467.2L171.0 467.2L172.0 467.2L173.0 467.2L174.0 467.2L175.0 467.2L176.0 467.3L177.0 467.3L178.0 467.3L179.0 467.4L180.0 467.4L181.0 467.5L182.0 467.6L183.0 467.6L184.0 467.7L185.0 467.8L186.0 467.8L187.0 467.9L188.0 468.0L189.0 468.1L190.0 468.2L191.0 468.3L192.0 468.4L193.0 468.5L194.0 468.6L195.0 468.8L196.0 469.0L197.0 469.2L198.0 469.4L199.0 469.7L200.0 470.0L201.0 470.3L202.0 470.6L203.0 471.0L204.0 471.4L205.0 471.9L206.0 472.4L207.0 473.1L208.0 473.8L209.0 474.6L210.0 475.5L211.0 476.4L212.0 477.3L213.0 478.3L214.0 479.3L215.0 480.3L216.0 481.4L217.0 482.4L218.0 483.5L219.0 484.5L220.0 485.6L221.0 486.6L222.0 487.5L223.0 488.5L224.0 489.3L225.0 490.2L226.0 491.0L227.0 491.9L228.0 492.8L229.0 493.7L230.0 494.6L231.0 495.5L232.0 496.4L233.0 497.3L234.0 498.2L235.0 499.0L236.0 499.9L237.0 500.8L238.0 501.7L239.0 502.5L240.0 503.3L241.0 504.1L242.0 504.9L243.0 505.7L244.0 506.4L245.0 507.2L246.0 507.8L247.0 508.5L248.0 509.1L249.0 509.7L250.0 510.2L251.0 510.8L252.0 511.3L253.0 511.8L254.0 512.3L255.0 512.8L256.0 513.3L257.0 513.8L258.0 514.3L259.0 514.8L260.0 515.3L261.0 515.8L262.0 516.3L263.0 516.7L264.0 517.2L265.0 517.6L266.0 518.0L267.0 518.4L268.0 518.8L269.0 519.1L270.0 519.4L271.0 519.7L272.0 520.0L273.0 520.3L274.0 520.5L275.0 520.6L276.0 520.8L277.0 520.9L278.0 521.0L279.0 521.0L280.0 521.0L281.0 521.0L282.0 521.0L283.0 521.0L284.0 521.0L285.0 521.0L286.0 521.0L287.0 521.0L288.0 521.0L289.0 521.0L290.0 521.0L291.0 521.0L292.0 520.9L293.0 520.9L294.0 520.8L295.0 520.6L296.0 520.5L297.0 520.3L298.0 520.1L299.0 519.9L300.0 519.7L301.0 519.5L302.0 519.3L303.0 519.0L304.0 518.8L305.0 518.6L306.0 518.3L307.0 518.1L308.0 517.8L309.0 517.6L310.0 517.4L311.0 517.1L312.0 516.9L313.0 516.7L314.0 516.5L315.0 516.4L316.0 516.2L317.0 516.1L318.0 515.9L319.0 515.8L320.0 515.7L321.0 515.5L322.0 515.4L323.0 515.3L324.0 515.2L325.0 515.0L326.0 514.9L327.0 514.8L328.0 514.7L329.0 514.6L330.0 514.5L331.0 514.4L332.0 514.3L333.0 514.2L334.0 514.0L335.0 513.9L336.0 513.8L337.0 513.7L338.0 513.6L339.0 513.5L340.0 513.4L341.0 513.3L342.0 513.1L343.0 513.0L344.0 512.9L345.0 512.8L346.0 512.7L347.0 512.5L348.0 512.4L349.0 512.3L350.0 512.2L351.0 512.1L352.0 512.0L353.0 511.9L354.0 511.7L355.0 511.6L356.0 511.5L357.0 511.4L358.0 511.3L359.0 511.1L360.0 511.0L361.0 510.9L362.0 510.8L363.0 510.6L364.0 510.5L365.0 510.4L366.0 510.2L367.0 510.1L368.0 509.9L369.0 509.8L370.0 509.6L371.0 509.4L372.0 509.2L373.0 509.0L374.0 508.8L375.0 508.6L376.0 508.4L377.0 508.1L378.0 507.9L379.0 507.6L380.0 507.3L381.0 507.1L382.0 506.8L383.0 506.5L384.0 506.2L385.0 505.9L386.0 505.6L387.0 505.3L388.0 505.0L389.0 504.7L390.0 504.4L391.0 504.2L392.0 503.9L393.0 503.6L394.0 503.3L395.0 503.0L396.0 502.8L397.0 502.5L398.0 502.3L399.0 502.1L400.0 501.8L401.0 501.6L402.0 501.4L403.0 501.2L404.0 501.1L405.0 500.9L406.0 500.8L407.0 500.7L408.0 500.6L409.0 500.5L410.0 500.5L411.0 500.4L412.0 500.3L413.0 500.3L414.0 500.2L415.0 500.2L416.0 500.1L417.0 500.1L418.0 500.1L419.0 500.0L420.0 500.0L421.0 500.0L422.0 500.0L423.0 500.0L424.0 500.0L425.0 500.1L426.0 500.1L427.0 500.2L428.0 500.3L429.0 500.4L430.0 500.5L431.0 500.8L432.0 501.2L433.0 501.9L434.0 502.5L435.0 503.1L436.0 503.5L437.0 503.6L438.0 503.4L439.0 503.0L440.0 502.4L441.0 501.6L442.0 500.8L443.0 499.9L444.0 499.0L445.0 498.2L446.0 497.4L447.0 496.9L448.0 496.6L449.0 496.5L450.0 496.5L451.0 496.6L452.0 496.7L453.0 496.9L454.0 497.0L455.0 497.2L456.0 497.4L457.0 497.5L458.0 497.6L459.0 497.7L460.0 497.7L461.0 497.4L462.0 496.5L463.0 495.4L464.0 494.2L465.0 493.3L466.0 492.8L467.0 492.6L468.0 492.4L469.0 492.2L470.0 492.0L471.0 491.9L472.0 491.8L473.0 491.6L474.0 491.5L475.0 491.4L476.0 491.3L477.0 491.2L478.0 491.1L479.0 491.0L480.0 490.9L481.0 490.8L482.0 490.7L483.0 490.5L484.0 490.4L485.0 490.3L486.0 490.2L487.0 490.1L488.0 490.0L489.0 489.9L490.0 489.8L491.0 489.7L492.0 489.5L493.0 489.4L494.0 489.3L495.0 489.2L496.0 489.1L497.0 489.0L498.0 488.9L499.0 488.8L500.0 488.7L501.0 488.6L502.0 488.5L503.0 488.4L504.0 488.3L505.0 488.2L506.0 488.2L507.0 488.1L508.0 488.0L509.0 487.9L510.0 487.8L511.0 487.7L512.0 487.6L513.0 487.5L514.0 487.4L515.0 487.3L516.0 487.2L517.0 487.2L518.0 487.1L519.0 487.0L520.0 486.9L521.0 486.8L522.0 486.7L523.0 486.7L524.0 486.6L525.0 486.5L526.0 486.4L527.0 486.3L528.0 486.3L529.0 486.2L530.0 486.1L531.0 486.0L532.0 486.0L533.0 485.9L534.0 485.8L535.0 485.7L536.0 485.7L537.0 485.6L538.0 485.5L539.0 485.4L540.0 485.4L541.0 485.3L542.0 485.2L543.0 485.2L544.0 485.1L545.0 485.0L546.0 484.9L547.0 484.9L548.0 484.8L549.0 484.7L550.0 484.7L551.0 484.6L552.0 484.5L553.0 484.4L554.0 484.4L555.0 484.3L556.0 484.2L557.0 484.1L558.0 484.1L559.0 484.0L560.0 483.9L561.0 483.8L562.0 483.8L563.0 483.7L564.0 483.6L565.0 483.5L566.0 483.4L567.0 483.4L568.0 483.3L569.0 483.2L570.0 483.1L571.0 483.1L572.0 483.0L573.0 482.9L574.0 482.8L575.0 482.8L576.0 482.7L577.0 482.6L578.0 482.5L579.0 482.4L580.0 482.4L581.0 482.3L582.0 482.2L583.0 482.1L584.0 482.1L585.0 482.0L586.0 481.9L587.0 481.8L588.0 481.8L589.0 481.7L590.0 481.6L591.0 481.6L592.0 481.5L593.0 481.4L594.0 481.3L595.0 481.3L596.0 481.2L597.0 481.1L598.0 481.1L599.0 481.0L600.0 480.9L601.0 480.8L602.0 480.8L603.0 480.7L604.0 480.6L605.0 480.6L606.0 480.5L607.0 480.4L608.0 480.4L609.0 480.3L610.0 480.2L611.0 480.1L612.0 480.1L613.0 480.0L614.0 479.9L615.0 479.9L616.0 479.8L617.0 479.7L618.0 479.7L619.0 479.6L620.0 479.5L621.0 479.5L622.0 479.4L623.0 479.4L624.0 479.3L625.0 479.2L626.0 479.2L627.0 479.1L628.0 479.1L629.0 479.0L630.0 479.0L631.0 478.9L632.0 478.9L633.0 478.8L634.0 478.8L635.0 478.7L636.0 478.7L637.0 478.6L638.0 478.6L639.0 478.5L640.0 478.5L641.0 478.5L642.0 478.4L643.0 478.4L644.0 478.4L645.0 478.3L646.0 478.3L647.0 478.3L648.0 478.2L649.0 478.2L650.0 478.1L651.0 478.1L652.0 478.1L653.0 478.0L654.0 478.0L655.0 477.9L656.0 477.9L657.0 477.9L658.0 477.8L659.0 477.8L660.0 477.7L661.0 477.6L662.0 477.6L663.0 477.5L664.0 477.4L665.0 477.4L666.0 477.3L667.0 477.2L668.0 477.1L669.0 477.0L670.0 477.0L671.0 476.9L672.0 476.8L673.0 476.7L674.0 476.6L675.0 476.5L676.0 476.4L677.0 476.3L678.0 476.2L679.0 476.1L680.0 476.0L681.0 475.9L682.0 475.8L683.0 475.7L684.0 475.6L685.0 475.5L686.0 475.4L687.0 475.3L688.0 475.2L689.0 475.2L690.0 475.1L691.0 475.0L692.0 474.9L693.0 474.8L694.0 474.7L695.0 474.6L696.0 474.6L697.0 474.5L698.0 474.4L699.0 474.3L700.0 474.2L701.0 474.1L702.0 474.0L703.0 474.0L704.0 473.9L705.0 473.8L706.0 473.7L707.0 473.6L708.0 473.5L709.0 473.4L710.0 473.4L711.0 473.3L712.0 473.2L713.0 473.1L714.0 473.0L715.0 472.9L716.0 472.8L717.0 472.8L718.0 472.7L719.0 472.6L720.0 472.5L721.0 472.4L722.0 472.3L723.0 472.2L724.0 472.2L725.0 472.1L726.0 472.0L727.0 471.9L728.0 471.8L729.0 471.7L730.0 471.6L731.0 471.5L732.0 471.5L733.0 471.4L734.0 471.3L735.0 471.2L736.0 471.1L737.0 471.0L738.0 470.9L739.0 470.8L740.0 470.7L741.0 470.6L742.0 470.5L743.0 470.5L744.0 470.4L745.0 470.3L746.0 470.2L747.0 470.1L748.0 470.0L749.0 469.9L750.0 469.8L751.0 469.7L752.0 469.6L753.0 469.6L754.0 469.5L755.0 469.4L756.0 469.3L757.0 469.2L758.0 469.1L759.0 469.0L760.0 469.0L761.0 468.9L762.0 468.8L763.0 468.7L764.0 468.6L765.0 468.5L766.0 468.5L767.0 468.4L768.0 468.3L769.0 468.2L770.0 468.1L771.0 468.0L772.0 468.0L773.0 467.9L774.0 467.8L775.0 467.7L776.0 467.6L777.0 467.6L778.0 467.5L779.0 467.4L780.0 467.3L781.0 467.3L782.0 467.2L783.0 467.1L784.0 467.0L785.0 466.9L786.0 466.9L787.0 466.8L788.0 466.7L789.0 466.6L790.0 466.6L791.0 466.5L792.0 466.4L793.0 466.4L794.0 466.3L795.0 466.2L796.0 466.1L797.0 466.1L798.0 466.0L799.0 465.9L800.0 465.9L801.0 465.8L802.0 465.7L803.0 465.7L804.0 465.6L805.0 465.5L806.0 465.4L807.0 465.4L808.0 465.3L809.0 465.2L810.0 465.1L811.0 465.1L812.0 465.0L813.0 465.0L814.0 465.0L815.0 465.0L816.0 465.1L817.0 465.2L818.0 465.3L819.0 465.4L820.0 465.6L821.0 465.8L822.0 466.0L823.0 466.2L824.0 466.4L825.0 466.7L826.0 467.0L827.0 467.3L828.0 467.6L829.0 468.0L830.0 468.3L831.0 468.7L832.0 469.1L833.0 469.5L834.0 470.2L835.0 471.0L836.0 472.0L837.0 473.2L838.0 474.5L839.0 475.8L840.0 477.1L841.0 478.4L842.0 479.7L843.0 480.8L844.0 482.0L845.0 483.3L846.0 484.5L847.0 485.8L848.0 487.0L849.0 488.0L850.0 489.0L851.0 489.9L852.0 490.9L853.0 491.9L854.0 492.7L855.0 493.4L856.0 493.8L857.0 493.9L858.0 493.7L859.0 493.4L860.0 492.9L861.0 492.2L862.0 491.4L863.0 490.6L864.0 489.7L865.0 488.8L866.0 487.8L867.0 486.9L868.0 486.1L869.0 485.3L870.0 484.6L871.0 483.9L872.0 483.2L873.0 482.6L874.0 481.9L875.0 481.3L876.0 480.6L877.0 480.0L878.0 479.4L879.0 478.9L880.0 478.4L881.0 477.9L882.0 477.4L883.0 476.9L884.0 476.4L885.0 475.9L886.0 475.4L887.0 475.0L888.0 474.5L889.0 474.2L890.0 473.9L891.0 473.6L892.0 473.4L893.0 473.3L894.0 473.3L895.0 473.4L896.0 473.5L897.0 473.7L898.0 473.9L899.0 474.1L900.0 474.4L901.0 474.7L902.0 475.1L903.0 475.4L904.0 475.7L905.0 476.0L906.0 476.3L907.0 476.6L908.0 476.8L909.0 477.0L910.0 477.2L911.0 477.3L912.0 477.3L913.0 477.3L914.0 477.3L915.0 477.3L916.0 477.3L917.0 477.2L918.0 477.2L919.0 477.2L920.0 477.2L921.0 477.1L922.0 477.1L923.0 477.0L924.0 477.0L925.0 476.9L926.0 476.9L927.0 476.8L928.0 476.8L929.0 476.7L930.0 476.5L931.0 476.2L932.0 475.8L933.0 475.2L934.0 474.6L935.0 473.9L936.0 473.1L937.0 472.3L938.0 471.5L939.0 470.8L940.0 470.0L941.0 469.4L942.0 468.8L943.0 468.3L944.0 467.9L945.0 467.7L946.0 467.6L947.0 467.8L948.0 468.2L949.0 468.8L950.0 469.6L951.0 470.3L952.0 471.0L953.0 471.6L954.0 472.0L955.0 472.2L956.0 472.1L957.0 471.7L958.0 471.2L959.0 470.6L960.0 470.0L961.0 469.3L962.0 468.7L963.0 468.1L964.0 467.8L965.0 467.6L966.0 467.6L967.0 467.7L968.0 467.9L969.0 468.1L970.0 468.4L971.0 468.7L972.0 469.0L973.0 469.3L974.0 469.7L975.0 470.0L976.0 470.4L977.0 470.7L978.0 471.0L979.0 471.2L980.0 471.4L981.0 471.5L982.0 471.6L983.0 471.5L984.0 471.3L985.0 470.9L986.0 470.4L987.0 469.8L988.0 469.1L989.0 468.5L990.0 467.8L991.0 467.3L992.0 466.9L993.0 466.6L994.0 466.5L995.0 466.4L996.0 466.3L997.0 466.3L998.0 466.2L999.0 466.2L1000.0 466.1L1001.0 466.1L1002.0 466.0L1003.0 466.0L1004.0 466.0L1005.0 466.0L1006.0 465.9L1007.0 465.9L1008.0 465.9L1009.0 465.9L1010.0 465.9L1011.0 465.9L1012.0 465.9L1013.0 466.0L1014.0 466.1L1015.0 466.2L1016.0 466.4L1017.0 466.5L1018.0 466.7L1019.0 466.9L1020.0 467.2L1021.0 467.4L1022.0 467.7L1023.0 467.9L1024.0 468.2L1025.0 468.5L1026.0 468.8L1027.0 469.1L1028.0 469.4L1029.0 469.7L1030.0 470.0L1031.0 470.3L1032.0 470.6L1033.0 470.9L1034.0 471.2L1035.0 471.5L1036.0 471.8L1037.0 472.1L1038.0 472.3L1039.0 472.6L1040.0 472.8L1041.0 473.1L1042.0 473.3L1043.0 473.5L1044.0 473.8L1045.0 474.0L1046.0 474.3L1047.0 474.5L1048.0 474.8L1049.0 475.0L1050.0 475.3L1051.0 475.6L1052.0 475.9L1053.0 476.2L1054.0 476.6L1055.0 476.9L1056.0 477.3L1057.0 477.7L1058.0 478.2L1059.0 478.7L1060.0 479.2L1061.0 479.8L1062.0 480.5L1063.0 481.2L1064.0 482.0L1065.0 482.7L1066.0 483.6L1067.0 484.4L1068.0 485.3L1069.0 486.2L1070.0 487.1L1071.0 488.0L1072.0 488.9L1073.0 489.8L1074.0 490.8L1075.0 491.7L1076.0 492.6L1077.0 493.4L1078.0 494.3L1079.0 495.1L1080.0 495.9L1081.0 496.8L1082.0 497.6L1083.0 498.4L1084.0 499.2L1085.0 500.1L1086.0 500.9L1087.0 501.9L1088.0 502.8L1089.0 503.8L1090.0 504.8L1091.0 505.9L1092.0 507.1L1093.0 508.3L1094.0 509.6L1095.0 511.0L1096.0 512.5L1097.0 514.2L1098.0 516.2L1099.0 518.5L1100.0 521.0L1101.0 523.7L1102.0 526.6L1103.0 529.5L1104.0 532.5L1105.0 535.4L1106.0 538.4L1107.0 541.6L1108.0 545.1L1109.0 548.8L1110.0 552.6L1111.0 556.6L1112.0 560.6L1113.0 564.6L1114.0 568.6L1115.0 572.5L1116.0 576.2L1117.0 579.6L1118.0 582.8L1119.0 585.7L1120.0 588.2L1121.0 590.3L1122.0 592.2L1123.0 594.0L1124.0 595.7L1125.0 597.3L1126.0 598.9L1127.0 600.3L1128.0 601.7L1129.0 603.0L1130.0 604.3L1131.0 605.4L1132.0 606.5L1133.0 607.5L1134.0 608.5L1135.0 609.3L1136.0 610.2L1137.0 611.1L1138.0 611.9L1139.0 612.7L1140.0 613.5L1141.0 614.3L1142.0 615.1L1143.0 615.8L1144.0 616.5L1145.0 617.3L1146.0 617.9L1147.0 618.6L1148.0 619.3L1149.0 619.9L1150.0 620.5L1151.0 621.0L1152.0 621.6L1153.0 622.1L1154.0 622.6L1155.0 623.1L1156.0 623.5L1157.0 623.9L1158.0 624.3L1159.0 624.7L1160.0 625.0L1161.0 625.3L1162.0 625.6L1163.0 625.8L1164.0 626.0L1165.0 626.2L1166.0 626.5L1167.0 626.7L1168.0 626.9L1169.0 627.1L1170.0 627.3L1171.0 627.4L1172.0 627.6L1173.0 627.8L1174.0 628.0L1175.0 628.1L1176.0 628.3L1177.0 628.4L1178.0 628.6L1179.0 628.7L1180.0 628.8L1181.0 628.9L1182.0 629.0L1183.0 629.2L1184.0 629.3L1185.0 629.3L1186.0 629.4L1187.0 629.5L1188.0 629.6L1189.0 629.7L1190.0 629.7L1191.0 629.8L1192.0 629.8L1193.0 629.9L1194.0 629.9L1195.0 630.0L1196.0 630.0L1197.0 630.1L1198.0 630.1L1199.0 630.2L1200.0 630.2L1201.0 630.3L1202.0 630.3L1203.0 630.4L1204.0 630.4L1205.0 630.5L1206.0 630.5L1207.0 630.6L1208.0 630.6L1209.0 630.6L1210.0 630.7L1211.0 630.7L1212.0 630.8L1213.0 630.8L1214.0 630.8L1215.0 630.8L1216.0 630.9L1217.0 630.9L1218.0 630.9L1219.0 631.0L1220.0 631.0L1221.0 631.0L1222.0 631.0L1223.0 631.0L1224.0 631.0L1225.0 631.1L1226.0 631.1L1227.0 631.1L1228.0 631.1L1229.0 631.1L1230.0 631.1L1231.0 631.1L1232.0 631.1L1233.0 631.0L1234.0 630.8L1235.0 630.6L1236.0 630.4L1237.0 630.1L1238.0 629.7L1239.0 629.4L1240.0 629.0L1241.0 628.5L1242.0 627.7L1243.0 626.8L1244.0 625.7L1245.0 624.6L1246.0 623.3L1246.4 622.8" fill="none" stroke="#7c8000" stroke-width="3.3" stroke-linejoin="round" stroke-linecap="round"/>
<path d="M88.0 549.8L89.0 549.8L90.0 549.8L91.0 549.9L92.0 549.9L93.0 549.9L94.0 550.0L95.0 550.0L96.0 550.0L97.0 550.1L98.0 550.1L99.0 550.2L100.0 550.2L101.0 550.2L102.0 550.3L103.0 550.3L104.0 550.4L105.0 550.4L106.0 550.5L107.0 550.5L108.0 550.6L109.0 550.6L110.0 550.7L111.0 550.8L112.0 550.8L113.0 550.9L114.0 550.9L115.0 551.0L116.0 551.1L117.0 551.1L118.0 551.2L119.0 551.2L120.0 551.3L121.0 551.4L122.0 551.4L123.0 551.5L124.0 551.6L125.0 551.6L126.0 551.7L127.0 551.8L128.0 551.9L129.0 551.9L130.0 552.0L131.0 552.1L132.0 552.2L133.0 552.3L134.0 552.4L135.0 552.5L136.0 552.6L137.0 552.7L138.0 552.9L139.0 553.0L140.0 553.1L141.0 553.3L142.0 553.4L143.0 553.6L144.0 553.7L145.0 553.8L146.0 554.0L147.0 554.1L148.0 554.2L149.0 554.4L150.0 554.5L151.0 554.6L152.0 554.7L153.0 554.8L154.0 554.8L155.0 554.9L156.0 554.9L157.0 555.0L158.0 555.0L159.0 555.0L160.0 554.8L161.0 554.5L162.0 554.1L163.0 553.6L164.0 553.0L165.0 552.5L166.0 552.0L167.0 551.5L168.0 551.2L169.0 551.1L170.0 551.1L171.0 551.1L172.0 551.2L173.0 551.3L174.0 551.4L175.0 551.5L176.0 551.6L177.0 551.7L178.0 551.9L179.0 552.1L180.0 552.2L181.0 552.4L182.0 552.6L183.0 552.8L184.0 553.1L185.0 553.3L186.0 553.5L187.0 553.7L188.0 554.0L189.0 554.2L190.0 554.4L191.0 554.6L192.0 554.8L193.0 555.0L194.0 555.2L195.0 555.4L196.0 555.6L197.0 555.9L198.0 556.1L199.0 556.3L200.0 556.6L201.0 556.9L202.0 557.2L203.0 557.6L204.0 558.0L205.0 558.6L206.0 559.4L207.0 560.2L208.0 561.2L209.0 562.2L210.0 563.4L211.0 564.5L212.0 565.7L213.0 566.9L214.0 568.1L215.0 569.3L216.0 570.4L217.0 571.4L218.0 572.5L219.0 573.7L220.0 574.8L221.0 576.0L222.0 577.2L223.0 578.4L224.0 579.6L225.0 580.8L226.0 582.0L227.0 583.2L228.0 584.4L229.0 585.6L230.0 586.7L231.0 587.9L232.0 589.0L233.0 590.1L234.0 591.1L235.0 592.2L236.0 593.1L237.0 594.0L238.0 594.9L239.0 595.8L240.0 596.7L241.0 597.5L242.0 598.4L243.0 599.2L244.0 600.1L245.0 600.9L246.0 601.7L247.0 602.6L248.0 603.4L249.0 604.1L250.0 604.9L251.0 605.6L252.0 606.4L253.0 607.1L254.0 607.8L255.0 608.4L256.0 609.0L257.0 609.6L258.0 610.2L259.0 610.8L260.0 611.3L261.0 611.7L262.0 612.2L263.0 612.6L264.0 612.9L265.0 613.3L266.0 613.7L267.0 614.0L268.0 614.4L269.0 614.7L270.0 615.1L271.0 615.4L272.0 615.7L273.0 616.0L274.0 616.3L275.0 616.6L276.0 616.8L277.0 617.1L278.0 617.3L279.0 617.5L280.0 617.6L281.0 617.8L282.0 617.9L283.0 618.0L284.0 618.0L285.0 618.0L286.0 618.0L287.0 617.9L288.0 617.9L289.0 617.8L290.0 617.7L291.0 617.6L292.0 617.4L293.0 617.3L294.0 617.1L295.0 617.0L296.0 616.8L297.0 616.6L298.0 616.4L299.0 616.2L300.0 616.0L301.0 615.7L302.0 615.5L303.0 615.3L304.0 615.1L305.0 614.9L306.0 614.6L307.0 614.4L308.0 614.2L309.0 614.0L310.0 613.8L311.0 613.6L312.0 613.4L313.0 613.2L314.0 613.1L315.0 612.9L316.0 612.8L317.0 612.7L318.0 612.6L319.0 612.4L320.0 612.3L321.0 612.2L322.0 612.1L323.0 612.0L324.0 611.9L325.0 611.8L326.0 611.7L327.0 611.6L328.0 611.5L329.0 611.4L330.0 611.3L331.0 611.2L332.0 611.1L333.0 611.0L334.0 610.9L335.0 610.8L336.0 610.8L337.0 610.7L338.0 610.6L339.0 610.5L340.0 610.3L341.0 610.2L342.0 610.1L343.0 610.0L344.0 609.9L345.0 609.8L346.0 609.7L347.0 609.6L348.0 609.5L349.0 609.4L350.0 609.3L351.0 609.2L352.0 609.0L353.0 608.9L354.0 608.8L355.0 608.7L356.0 608.6L357.0 608.5L358.0 608.4L359.0 608.2L360.0 608.1L361.0 608.0L362.0 607.9L363.0 607.7L364.0 607.6L365.0 607.5L366.0 607.3L367.0 607.2L368.0 607.0L369.0 606.9L370.0 606.7L371.0 606.5L372.0 606.3L373.0 606.1L374.0 605.9L375.0 605.6L376.0 605.3L377.0 605.0L378.0 604.7L379.0 604.4L380.0 604.1L381.0 603.8L382.0 603.4L383.0 603.1L384.0 602.7L385.0 602.3L386.0 602.0L387.0 601.6L388.0 601.2L389.0 600.9L390.0 600.5L391.0 600.2L392.0 599.8L393.0 599.5L394.0 599.1L395.0 598.8L396.0 598.5L397.0 598.2L398.0 597.9L399.0 597.7L400.0 597.4L401.0 597.2L402.0 597.0L403.0 596.8L404.0 596.6L405.0 596.5L406.0 596.4L407.0 596.3L408.0 596.2L409.0 596.2L410.0 596.2L411.0 596.2L412.0 596.2L413.0 596.2L414.0 596.2L415.0 596.2L416.0 596.2L417.0 596.2L418.0 596.2L419.0 596.2L420.0 596.2L421.0 596.2L422.0 596.2L423.0 596.2L424.0 596.3L425.0 596.4L426.0 596.5L427.0 596.7L428.0 597.0L429.0 597.2L430.0 597.5L431.0 598.0L432.0 598.9L433.0 599.9L434.0 601.0L435.0 601.9L436.0 602.6L437.0 602.8L438.0 602.5L439.0 601.9L440.0 601.0L441.0 599.9L442.0 598.6L443.0 597.3L444.0 596.0L445.0 594.7L446.0 593.7L447.0 592.9L448.0 592.4L449.0 592.3L450.0 592.4L451.0 592.6L452.0 592.8L453.0 593.1L454.0 593.4L455.0 593.7L456.0 594.1L457.0 594.3L458.0 594.6L459.0 594.8L460.0 594.9L461.0 594.8L462.0 594.4L463.0 593.7L464.0 592.7L465.0 591.6L466.0 590.4L467.0 589.3L468.0 588.4L469.0 587.8L470.0 587.4L471.0 587.2L472.0 587.1L473.0 586.9L474.0 586.8L475.0 586.7L476.0 586.6L477.0 586.5L478.0 586.4L479.0 586.3L480.0 586.2L481.0 586.1L482.0 586.0L483.0 585.8L484.0 585.7L485.0 585.6L486.0 585.5L487.0 585.4L488.0 585.2L489.0 585.1L490.0 585.0L491.0 584.9L492.0 584.8L493.0 584.7L494.0 584.6L495.0 584.4L496.0 584.3L497.0 584.2L498.0 584.1L499.0 584.0L500.0 583.9L501.0 583.8L502.0 583.6L503.0 583.5L504.0 583.4L505.0 583.3L506.0 583.2L507.0 583.1L508.0 583.0L509.0 582.8L510.0 582.7L511.0 582.6L512.0 582.5L513.0 582.4L514.0 582.3L515.0 582.1L516.0 582.0L517.0 581.9L518.0 581.8L519.0 581.7L520.0 581.5L521.0 581.4L522.0 581.3L523.0 581.2L524.0 581.1L525.0 580.9L526.0 580.8L527.0 580.7L528.0 580.6L529.0 580.4L530.0 580.3L531.0 580.2L532.0 580.0L533.0 579.9L534.0 579.8L535.0 579.7L536.0 579.5L537.0 579.4L538.0 579.3L539.0 579.1L540.0 579.0L541.0 578.9L542.0 578.7L543.0 578.6L544.0 578.5L545.0 578.3L546.0 578.2L547.0 578.1L548.0 577.9L549.0 577.8L550.0 577.7L551.0 577.6L552.0 577.4L553.0 577.3L554.0 577.2L555.0 577.0L556.0 576.9L557.0 576.8L558.0 576.7L559.0 576.6L560.0 576.4L561.0 576.3L562.0 576.2L563.0 576.1L564.0 576.0L565.0 575.8L566.0 575.7L567.0 575.6L568.0 575.5L569.0 575.4L570.0 575.3L571.0 575.2L572.0 575.1L573.0 575.0L574.0 574.9L575.0 574.7L576.0 574.6L577.0 574.5L578.0 574.4L579.0 574.3L580.0 574.2L581.0 574.1L582.0 574.0L583.0 573.9L584.0 573.8L585.0 573.7L586.0 573.6L587.0 573.6L588.0 573.5L589.0 573.4L590.0 573.3L591.0 573.2L592.0 573.1L593.0 573.0L594.0 572.9L595.0 572.8L596.0 572.7L597.0 572.7L598.0 572.6L599.0 572.5L600.0 572.4L601.0 572.3L602.0 572.2L603.0 572.2L604.0 572.1L605.0 572.0L606.0 571.9L607.0 571.8L608.0 571.8L609.0 571.7L610.0 571.6L611.0 571.5L612.0 571.5L613.0 571.4L614.0 571.3L615.0 571.2L616.0 571.2L617.0 571.1L618.0 571.0L619.0 570.9L620.0 570.9L621.0 570.8L622.0 570.7L623.0 570.7L624.0 570.6L625.0 570.5L626.0 570.5L627.0 570.4L628.0 570.3L629.0 570.3L630.0 570.2L631.0 570.1L632.0 570.1L633.0 570.0L634.0 570.0L635.0 569.9L636.0 569.8L637.0 569.8L638.0 569.7L639.0 569.7L640.0 569.6L641.0 569.6L642.0 569.5L643.0 569.5L644.0 569.4L645.0 569.3L646.0 569.3L647.0 569.2L648.0 569.1L649.0 569.1L650.0 569.0L651.0 568.9L652.0 568.8L653.0 568.8L654.0 568.7L655.0 568.6L656.0 568.5L657.0 568.4L658.0 568.3L659.0 568.2L660.0 568.1L661.0 568.0L662.0 567.9L663.0 567.8L664.0 567.7L665.0 567.6L666.0 567.5L667.0 567.3L668.0 567.2L669.0 567.1L670.0 567.0L671.0 566.9L672.0 566.8L673.0 566.6L674.0 566.5L675.0 566.4L676.0 566.3L677.0 566.1L678.0 566.0L679.0 565.9L680.0 565.8L681.0 565.6L682.0 565.5L683.0 565.4L684.0 565.2L685.0 565.1L686.0 565.0L687.0 564.9L688.0 564.7L689.0 564.6L690.0 564.5L691.0 564.4L692.0 564.2L693.0 564.1L694.0 564.0L695.0 563.8L696.0 563.7L697.0 563.6L698.0 563.5L699.0 563.3L700.0 563.2L701.0 563.1L702.0 563.0L703.0 562.8L704.0 562.7L705.0 562.6L706.0 562.4L707.0 562.3L708.0 562.2L709.0 562.0L710.0 561.9L711.0 561.7L712.0 561.6L713.0 561.5L714.0 561.3L715.0 561.2L716.0 561.1L717.0 560.9L718.0 560.8L719.0 560.6L720.0 560.5L721.0 560.3L722.0 560.2L723.0 560.1L724.0 559.9L725.0 559.8L726.0 559.6L727.0 559.5L728.0 559.3L729.0 559.2L730.0 559.0L731.0 558.9L732.0 558.7L733.0 558.6L734.0 558.4L735.0 558.2L736.0 558.1L737.0 557.9L738.0 557.7L739.0 557.6L740.0 557.4L741.0 557.3L742.0 557.1L743.0 556.9L744.0 556.8L745.0 556.6L746.0 556.4L747.0 556.3L748.0 556.1L749.0 556.0L750.0 555.8L751.0 555.7L752.0 555.5L753.0 555.4L754.0 555.3L755.0 555.1L756.0 555.0L757.0 554.9L758.0 554.7L759.0 554.6L760.0 554.5L761.0 554.4L762.0 554.2L763.0 554.1L764.0 554.0L765.0 553.9L766.0 553.7L767.0 553.6L768.0 553.5L769.0 553.4L770.0 553.3L771.0 553.2L772.0 553.1L773.0 552.9L774.0 552.8L775.0 552.7L776.0 552.6L777.0 552.5L778.0 552.4L779.0 552.3L780.0 552.2L781.0 552.1L782.0 552.0L783.0 552.0L784.0 551.9L785.0 551.8L786.0 551.7L787.0 551.6L788.0 551.6L789.0 551.5L790.0 551.4L791.0 551.3L792.0 551.2L793.0 551.2L794.0 551.1L795.0 551.0L796.0 550.9L797.0 550.8L798.0 550.8L799.0 550.7L800.0 550.6L801.0 550.6L802.0 550.5L803.0 550.4L804.0 550.4L805.0 550.3L806.0 550.3L807.0 550.3L808.0 550.2L809.0 550.2L810.0 550.2L811.0 550.2L812.0 550.2L813.0 550.3L814.0 550.4L815.0 550.6L816.0 550.9L817.0 551.1L818.0 551.5L819.0 551.8L820.0 552.2L821.0 552.7L822.0 553.2L823.0 553.7L824.0 554.2L825.0 554.8L826.0 555.4L827.0 556.0L828.0 556.6L829.0 557.3L830.0 557.9L831.0 558.6L832.0 559.3L833.0 560.0L834.0 560.9L835.0 562.0L836.0 563.2L837.0 564.5L838.0 565.9L839.0 567.4L840.0 568.9L841.0 570.4L842.0 571.9L843.0 573.3L844.0 575.0L845.0 576.8L846.0 578.7L847.0 580.7L848.0 582.7L849.0 584.7L850.0 586.7L851.0 588.6L852.0 590.4L853.0 592.0L854.0 593.4L855.0 594.6L856.0 595.4L857.0 596.0L858.0 596.2L859.0 596.0L860.0 595.5L861.0 594.7L862.0 593.7L863.0 592.5L864.0 591.2L865.0 589.9L866.0 588.5L867.0 587.3L868.0 586.1L869.0 585.1L870.0 584.3L871.0 583.6L872.0 582.9L873.0 582.3L874.0 581.8L875.0 581.2L876.0 580.7L877.0 580.2L878.0 579.7L879.0 579.1L880.0 578.6L881.0 578.0L882.0 577.4L883.0 576.7L884.0 576.0L885.0 575.3L886.0 574.6L887.0 573.9L888.0 573.2L889.0 572.7L890.0 572.2L891.0 571.8L892.0 571.5L893.0 571.3L894.0 571.3L895.0 571.7L896.0 572.4L897.0 573.3L898.0 574.3L899.0 575.3L900.0 576.1L901.0 576.7L902.0 577.2L903.0 577.8L904.0 578.3L905.0 578.8L906.0 579.3L907.0 579.8L908.0 580.2L909.0 580.5L910.0 580.7L911.0 580.9L912.0 580.9L913.0 580.6L914.0 580.0L915.0 579.2L916.0 578.6L917.0 578.2L918.0 578.1L919.0 578.2L920.0 578.3L921.0 578.5L922.0 578.7L923.0 578.9L924.0 579.1L925.0 579.3L926.0 579.5L927.0 579.7L928.0 579.8L929.0 579.8L930.0 579.4L931.0 578.4L932.0 577.0L933.0 575.4L934.0 573.6L935.0 571.9L936.0 570.4L937.0 569.3L938.0 568.2L939.0 567.2L940.0 566.1L941.0 565.1L942.0 564.1L943.0 563.3L944.0 562.7L945.0 562.3L946.0 562.2L947.0 562.4L948.0 563.0L949.0 563.7L950.0 564.6L951.0 565.6L952.0 567.2L953.0 569.1L954.0 570.7L955.0 571.3L956.0 570.9L957.0 570.0L958.0 568.6L959.0 567.0L960.0 565.4L961.0 564.0L962.0 563.1L963.0 562.7L964.0 562.7L965.0 562.8L966.0 563.0L967.0 563.2L968.0 563.4L969.0 563.7L970.0 564.0L971.0 564.4L972.0 564.7L973.0 565.0L974.0 565.3L975.0 565.6L976.0 565.9L977.0 566.2L978.0 566.4L979.0 566.6L980.0 566.7L981.0 566.7L982.0 566.4L983.0 565.5L984.0 564.2L985.0 562.7L986.0 561.2L987.0 559.8L988.0 558.8L989.0 558.1L990.0 557.4L991.0 556.7L992.0 556.2L993.0 555.6L994.0 555.2L995.0 554.7L996.0 554.3L997.0 553.8L998.0 553.4L999.0 553.0L1000.0 552.6L1001.0 552.2L1002.0 551.9L1003.0 551.7L1004.0 551.5L1005.0 551.4L1006.0 551.4L1007.0 551.3L1008.0 551.3L1009.0 551.3L1010.0 551.2L1011.0 551.2L1012.0 551.2L1013.0 551.2L1014.0 551.1L1015.0 551.1L1016.0 551.1L1017.0 551.1L1018.0 551.1L1019.0 551.0L1020.0 551.0L1021.0 551.0L1022.0 551.0L1023.0 551.0L1024.0 551.0L1025.0 551.0L1026.0 551.0L1027.0 551.0L1028.0 551.1L1029.0 551.3L1030.0 551.6L1031.0 552.0L1032.0 552.5L1033.0 553.0L1034.0 553.5L1035.0 554.0L1036.0 554.4L1037.0 554.8L1038.0 555.1L1039.0 555.4L1040.0 555.6L1041.0 555.9L1042.0 556.1L1043.0 556.3L1044.0 556.5L1045.0 556.6L1046.0 556.8L1047.0 557.0L1048.0 557.1L1049.0 557.3L1050.0 557.5L1051.0 557.7L1052.0 557.9L1053.0 558.1L1054.0 558.4L1055.0 558.6L1056.0 558.9L1057.0 559.2L1058.0 559.6L1059.0 560.0L1060.0 560.5L1061.0 561.0L1062.0 561.6L1063.0 562.2L1064.0 562.9L1065.0 563.6L1066.0 564.3L1067.0 565.1L1068.0 565.9L1069.0 566.7L1070.0 567.6L1071.0 568.4L1072.0 569.3L1073.0 570.1L1074.0 571.0L1075.0 571.8L1076.0 572.7L1077.0 573.5L1078.0 574.3L1079.0 575.1L1080.0 575.9L1081.0 576.7L1082.0 577.5L1083.0 578.4L1084.0 579.2L1085.0 580.0L1086.0 580.9L1087.0 581.8L1088.0 582.8L1089.0 583.8L1090.0 584.9L1091.0 586.0L1092.0 587.1L1093.0 588.4L1094.0 589.7L1095.0 591.1L1096.0 592.6L1097.0 594.2L1098.0 596.2L1099.0 598.4L1100.0 600.8L1101.0 603.4L1102.0 606.1L1103.0 609.1L1104.0 612.2L1105.0 615.3L1106.0 618.7L1107.0 622.5L1108.0 626.9L1109.0 631.6L1110.0 636.4L1111.0 641.1L1112.0 645.5L1113.0 649.6L1114.0 653.9L1115.0 658.2L1116.0 662.5L1117.0 666.6L1118.0 670.4L1119.0 673.7L1120.0 676.5L1121.0 678.6L1122.0 680.3L1123.0 682.0L1124.0 683.5L1125.0 685.0L1126.0 686.3L1127.0 687.5L1128.0 688.7L1129.0 689.8L1130.0 690.8L1131.0 691.7L1132.0 692.6L1133.0 693.4L1134.0 694.2L1135.0 694.9L1136.0 695.6L1137.0 696.3L1138.0 697.0L1139.0 697.7L1140.0 698.3L1141.0 698.9L1142.0 699.6L1143.0 700.2L1144.0 700.7L1145.0 701.3L1146.0 701.8L1147.0 702.4L1148.0 702.9L1149.0 703.4L1150.0 703.8L1151.0 704.3L1152.0 704.7L1153.0 705.2L1154.0 705.6L1155.0 706.0L1156.0 706.4L1157.0 706.7L1158.0 707.1L1159.0 707.4L1160.0 707.7L1161.0 708.0L1162.0 708.3L1163.0 708.6L1164.0 708.9L1165.0 709.2L1166.0 709.4L1167.0 709.7L1168.0 710.0L1169.0 710.2L1170.0 710.4L1171.0 710.7L1172.0 710.9L1173.0 711.1L1174.0 711.4L1175.0 711.6L1176.0 711.8L1177.0 712.0L1178.0 712.2L1179.0 712.3L1180.0 712.5L1181.0 712.7L1182.0 712.9L1183.0 713.0L1184.0 713.2L1185.0 713.3L1186.0 713.4L1187.0 713.6L1188.0 713.7L1189.0 713.8L1190.0 713.9L1191.0 714.0L1192.0 714.1L1193.0 714.2L1194.0 714.3L1195.0 714.4L1196.0 714.5L1197.0 714.6L1198.0 714.7L1199.0 714.8L1200.0 714.9L1201.0 715.0L1202.0 715.1L1203.0 715.2L1204.0 715.3L1205.0 715.4L1206.0 715.5L1207.0 715.6L1208.0 715.6L1209.0 715.7L1210.0 715.8L1211.0 715.9L1212.0 716.0L1213.0 716.0L1214.0 716.1L1215.0 716.2L1216.0 716.2L1217.0 716.3L1218.0 716.3L1219.0 716.4L1220.0 716.4L1221.0 716.5L1222.0 716.5L1223.0 716.5L1224.0 716.6L1225.0 716.6L1226.0 716.6L1227.0 716.7L1228.0 716.7L1229.0 716.7L1230.0 716.7L1231.0 716.7L1232.0 716.7L1233.0 716.6L1234.0 716.5L1235.0 716.4L1236.0 716.2L1237.0 715.9L1238.0 715.7L1239.0 715.3L1240.0 714.9L1241.0 714.5L1242.0 714.1L1243.0 713.3L1244.0 711.5L1245.0 709.2L1246.0 706.6L1246.4 705.6" fill="none" stroke="#085f08" stroke-width="3.3" stroke-linejoin="round" stroke-linecap="round"/>
<path d="M88.0 642.0L89.0 642.0L90.0 642.0L91.0 642.0L92.0 642.0L93.0 642.0L94.0 642.0L95.0 642.0L96.0 642.0L97.0 641.9L98.0 641.9L99.0 641.9L100.0 641.9L101.0 641.9L102.0 641.9L103.0 641.8L104.0 641.8L105.0 641.8L106.0 641.8L107.0 641.7L108.0 641.7L109.0 641.7L110.0 641.7L111.0 641.6L112.0 641.6L113.0 641.6L114.0 641.5L115.0 641.5L116.0 641.4L117.0 641.3L118.0 641.1L119.0 640.9L120.0 640.6L121.0 640.3L122.0 640.0L123.0 639.6L124.0 639.3L125.0 638.9L126.0 638.5L127.0 638.2L128.0 637.9L129.0 637.5L130.0 637.2L131.0 637.0L132.0 636.8L133.0 636.6L134.0 636.5L135.0 636.5L136.0 636.5L137.0 636.6L138.0 636.8L139.0 637.0L140.0 637.2L141.0 637.5L142.0 637.8L143.0 638.1L144.0 638.4L145.0 638.8L146.0 639.1L147.0 639.4L148.0 639.7L149.0 640.0L150.0 640.3L151.0 640.5L152.0 640.7L153.0 640.9L154.0 641.0L155.0 641.0L156.0 640.9L157.0 640.6L158.0 640.1L159.0 639.5L160.0 638.8L161.0 638.0L162.0 637.2L163.0 636.3L164.0 635.5L165.0 634.7L166.0 634.0L167.0 633.4L168.0 632.9L169.0 632.6L170.0 632.5L171.0 632.6L172.0 633.0L173.0 633.6L174.0 634.4L175.0 635.2L176.0 636.1L177.0 637.0L178.0 637.8L179.0 638.5L180.0 639.0L181.0 639.4L182.0 639.7L183.0 640.0L184.0 640.3L185.0 640.5L186.0 640.8L187.0 641.0L188.0 641.3L189.0 641.5L190.0 641.8L191.0 642.2L192.0 642.6L193.0 643.1L194.0 643.8L195.0 644.6L196.0 645.6L197.0 646.7L198.0 648.0L199.0 649.3L200.0 650.7L201.0 652.1L202.0 653.6L203.0 655.4L204.0 657.2L205.0 659.2L206.0 661.3L207.0 663.4L208.0 665.6L209.0 667.9L210.0 670.1L211.0 672.3L212.0 674.5L213.0 676.7L214.0 679.0L215.0 681.3L216.0 683.6L217.0 686.0L218.0 688.4L219.0 690.8L220.0 693.3L221.0 695.8L222.0 698.3L223.0 700.8L224.0 703.4L225.0 706.0L226.0 709.0L227.0 712.0L228.0 715.3L229.0 718.6L230.0 721.8L231.0 725.1L232.0 728.2L233.0 731.2L234.0 733.9L235.0 736.3L236.0 738.4L237.0 740.1L238.0 741.3L239.0 742.4L240.0 743.4L241.0 744.4L242.0 745.2L243.0 746.0L244.0 746.7L245.0 747.4L246.0 748.0L247.0 748.7L248.0 749.3L249.0 750.0L250.0 750.7L251.0 751.5L252.0 752.3L253.0 753.1L254.0 753.9L255.0 754.7L256.0 755.6L257.0 756.4L258.0 757.2L259.0 758.0L260.0 758.8L261.0 759.6L262.0 760.3L263.0 761.0L264.0 761.7L265.0 762.3L266.0 762.9L267.0 763.4L268.0 763.9L269.0 764.3L270.0 764.6L271.0 765.0L272.0 765.4L273.0 765.7L274.0 766.1L275.0 766.4L276.0 766.7L277.0 767.0L278.0 767.3L279.0 767.5L280.0 767.7L281.0 767.9L282.0 768.0L283.0 768.1L284.0 768.2L285.0 768.2L286.0 768.1L287.0 767.9L288.0 767.7L289.0 767.4L290.0 767.0L291.0 766.6L292.0 766.2L293.0 765.7L294.0 765.1L295.0 764.6L296.0 764.0L297.0 763.4L298.0 762.9L299.0 762.3L300.0 761.7L301.0 761.2L302.0 760.7L303.0 760.3L304.0 759.8L305.0 759.4L306.0 758.9L307.0 758.5L308.0 758.0L309.0 757.5L310.0 757.1L311.0 756.6L312.0 756.1L313.0 755.7L314.0 755.2L315.0 754.7L316.0 754.2L317.0 753.8L318.0 753.3L319.0 752.9L320.0 752.4L321.0 751.9L322.0 751.5L323.0 751.1L324.0 750.6L325.0 750.2L326.0 749.8L327.0 749.3L328.0 748.9L329.0 748.5L330.0 748.1L331.0 747.8L332.0 747.4L333.0 747.0L334.0 746.6L335.0 746.3L336.0 745.9L337.0 745.5L338.0 745.2L339.0 744.8L340.0 744.5L341.0 744.1L342.0 743.8L343.0 743.4L344.0 743.1L345.0 742.8L346.0 742.4L347.0 742.1L348.0 741.8L349.0 741.4L350.0 741.1L351.0 740.8L352.0 740.4L353.0 740.1L354.0 739.8L355.0 739.4L356.0 739.1L357.0 738.8L358.0 738.5L359.0 738.2L360.0 737.9L361.0 737.6L362.0 737.3L363.0 737.0L364.0 736.7L365.0 736.3L366.0 736.0L367.0 735.7L368.0 735.3L369.0 735.0L370.0 734.6L371.0 734.2L372.0 733.8L373.0 733.3L374.0 732.9L375.0 732.4L376.0 731.9L377.0 731.4L378.0 730.9L379.0 730.4L380.0 729.8L381.0 729.3L382.0 728.7L383.0 728.2L384.0 727.6L385.0 727.1L386.0 726.5L387.0 726.0L388.0 725.4L389.0 724.8L390.0 724.2L391.0 723.5L392.0 722.9L393.0 722.2L394.0 721.6L395.0 720.9L396.0 720.3L397.0 719.6L398.0 718.9L399.0 718.3L400.0 717.6L401.0 717.0L402.0 716.4L403.0 715.7L404.0 715.1L405.0 714.6L406.0 714.0L407.0 713.5L408.0 712.9L409.0 712.4L410.0 712.0L411.0 711.4L412.0 710.9L413.0 710.4L414.0 709.9L415.0 709.5L416.0 709.2L417.0 709.1L418.0 709.4L419.0 710.5L420.0 712.1L421.0 714.2L422.0 716.4L423.0 718.6L424.0 720.5L425.0 721.9L426.0 722.7L427.0 722.8L428.0 722.5L429.0 722.1L430.0 721.8L431.0 721.5L432.0 721.8L433.0 724.9L434.0 729.9L435.0 735.3L436.0 739.6L437.0 741.1L438.0 739.9L439.0 737.0L440.0 733.2L441.0 728.9L442.0 724.7L443.0 721.2L444.0 718.8L445.0 716.3L446.0 713.9L447.0 711.7L448.0 709.9L449.0 708.7L450.0 708.3L451.0 708.8L452.0 710.0L453.0 711.7L454.0 713.7L455.0 715.6L456.0 717.3L457.0 718.5L458.0 719.0L459.0 718.2L460.0 716.1L461.0 713.3L462.0 710.2L463.0 707.3L464.0 705.0L465.0 703.0L466.0 701.0L467.0 699.2L468.0 697.5L469.0 696.3L470.0 695.5L471.0 694.9L472.0 694.4L473.0 693.9L474.0 693.4L475.0 693.0L476.0 692.7L477.0 692.4L478.0 692.2L479.0 691.9L480.0 691.7L481.0 691.6L482.0 691.4L483.0 691.3L484.0 691.1L485.0 691.0L486.0 690.9L487.0 690.8L488.0 690.7L489.0 690.6L490.0 690.5L491.0 690.4L492.0 690.3L493.0 690.2L494.0 690.1L495.0 690.0L496.0 689.9L497.0 689.8L498.0 689.7L499.0 689.5L500.0 689.4L501.0 689.2L502.0 689.1L503.0 688.9L504.0 688.8L505.0 688.6L506.0 688.4L507.0 688.3L508.0 688.1L509.0 687.9L510.0 687.7L511.0 687.6L512.0 687.4L513.0 687.2L514.0 687.0L515.0 686.8L516.0 686.6L517.0 686.4L518.0 686.2L519.0 686.0L520.0 685.8L521.0 685.7L522.0 685.5L523.0 685.3L524.0 685.1L525.0 684.9L526.0 684.7L527.0 684.5L528.0 684.3L529.0 684.1L530.0 683.9L531.0 683.7L532.0 683.6L533.0 683.4L534.0 683.2L535.0 683.0L536.0 682.9L537.0 682.7L538.0 682.5L539.0 682.4L540.0 682.2L541.0 682.0L542.0 681.9L543.0 681.7L544.0 681.6L545.0 681.4L546.0 681.3L547.0 681.1L548.0 681.0L549.0 680.8L550.0 680.7L551.0 680.6L552.0 680.4L553.0 680.3L554.0 680.1L555.0 680.0L556.0 679.8L557.0 679.7L558.0 679.6L559.0 679.4L560.0 679.3L561.0 679.1L562.0 678.9L563.0 678.8L564.0 678.6L565.0 678.5L566.0 678.3L567.0 678.1L568.0 677.9L569.0 677.8L570.0 677.6L571.0 677.4L572.0 677.2L573.0 677.0L574.0 676.8L575.0 676.6L576.0 676.4L577.0 676.1L578.0 675.9L579.0 675.6L580.0 675.3L581.0 675.0L582.0 674.7L583.0 674.4L584.0 674.0L585.0 673.7L586.0 673.4L587.0 673.0L588.0 672.7L589.0 672.4L590.0 672.1L591.0 671.8L592.0 671.5L593.0 671.2L594.0 670.9L595.0 670.7L596.0 670.5L597.0 670.2L598.0 670.0L599.0 669.8L600.0 669.6L601.0 669.4L602.0 669.2L603.0 669.0L604.0 668.8L605.0 668.6L606.0 668.4L607.0 668.2L608.0 668.0L609.0 667.8L610.0 667.6L611.0 667.4L612.0 667.3L613.0 667.1L614.0 666.9L615.0 666.7L616.0 666.5L617.0 666.3L618.0 666.0L619.0 665.8L620.0 665.6L621.0 665.4L622.0 665.2L623.0 665.0L624.0 664.8L625.0 664.6L626.0 664.4L627.0 664.2L628.0 664.0L629.0 663.8L630.0 663.7L631.0 663.5L632.0 663.3L633.0 663.1L634.0 662.9L635.0 662.8L636.0 662.6L637.0 662.4L638.0 662.3L639.0 662.1L640.0 661.9L641.0 661.8L642.0 661.6L643.0 661.4L644.0 661.3L645.0 661.1L646.0 661.0L647.0 660.9L648.0 660.7L649.0 660.6L650.0 660.5L651.0 660.4L652.0 660.3L653.0 660.2L654.0 660.1L655.0 660.0L656.0 659.9L657.0 659.8L658.0 659.8L659.0 659.7L660.0 659.6L661.0 659.6L662.0 659.5L663.0 659.4L664.0 659.3L665.0 659.3L666.0 659.2L667.0 659.1L668.0 659.1L669.0 659.0L670.0 658.9L671.0 658.8L672.0 658.8L673.0 658.7L674.0 658.6L675.0 658.5L676.0 658.4L677.0 658.3L678.0 658.2L679.0 658.1L680.0 658.0L681.0 657.8L682.0 657.7L683.0 657.6L684.0 657.4L685.0 657.3L686.0 657.1L687.0 656.9L688.0 656.8L689.0 656.6L690.0 656.4L691.0 656.2L692.0 656.0L693.0 655.8L694.0 655.6L695.0 655.4L696.0 655.2L697.0 655.0L698.0 654.8L699.0 654.6L700.0 654.4L701.0 654.2L702.0 654.0L703.0 653.7L704.0 653.5L705.0 653.3L706.0 653.1L707.0 652.9L708.0 652.6L709.0 652.4L710.0 652.2L711.0 651.9L712.0 651.7L713.0 651.4L714.0 651.2L715.0 650.9L716.0 650.6L717.0 650.4L718.0 650.1L719.0 649.8L720.0 649.5L721.0 649.3L722.0 649.0L723.0 648.7L724.0 648.4L725.0 648.1L726.0 647.8L727.0 647.6L728.0 647.3L729.0 647.0L730.0 646.7L731.0 646.4L732.0 646.2L733.0 645.9L734.0 645.6L735.0 645.4L736.0 645.1L737.0 644.9L738.0 644.6L739.0 644.4L740.0 644.1L741.0 643.8L742.0 643.6L743.0 643.3L744.0 643.0L745.0 642.8L746.0 642.5L747.0 642.3L748.0 642.0L749.0 641.7L750.0 641.5L751.0 641.3L752.0 641.0L753.0 640.8L754.0 640.6L755.0 640.3L756.0 640.1L757.0 639.9L758.0 639.8L759.0 639.6L760.0 639.4L761.0 639.3L762.0 639.1L763.0 639.0L764.0 638.9L765.0 638.7L766.0 638.6L767.0 638.4L768.0 638.3L769.0 638.2L770.0 638.1L771.0 637.9L772.0 637.8L773.0 637.7L774.0 637.6L775.0 637.5L776.0 637.5L777.0 637.4L778.0 637.4L779.0 637.3L780.0 637.3L781.0 637.3L782.0 637.3L783.0 637.3L784.0 637.4L785.0 637.4L786.0 637.5L787.0 637.5L788.0 637.6L789.0 637.7L790.0 637.8L791.0 637.9L792.0 638.0L793.0 638.2L794.0 638.3L795.0 638.4L796.0 638.6L797.0 638.8L798.0 639.0L799.0 639.3L800.0 639.7L801.0 640.1L802.0 640.5L803.0 641.0L804.0 641.6L805.0 643.0L806.0 644.8L807.0 646.3L808.0 647.0L809.0 647.2L810.0 647.3L811.0 647.4L812.0 647.5L813.0 647.7L814.0 648.3L815.0 650.5L816.0 653.7L817.0 657.4L818.0 661.3L819.0 666.2L820.0 671.6L821.0 676.7L822.0 682.2L823.0 686.3L824.0 686.3L825.0 686.1L826.0 686.0L827.0 685.7L828.0 685.4L829.0 684.0L830.0 682.2L831.0 681.5L832.0 682.7L833.0 685.0L834.0 687.7L835.0 690.2L836.0 692.9L837.0 695.9L838.0 699.2L839.0 702.6L840.0 706.1L841.0 709.6L842.0 713.2L843.0 716.8L844.0 720.9L845.0 725.3L846.0 729.7L847.0 734.0L848.0 737.8L849.0 740.9L850.0 743.1L851.0 744.7L852.0 746.3L853.0 747.7L854.0 749.0L855.0 750.1L856.0 750.9L857.0 751.4L858.0 751.6L859.0 751.4L860.0 750.9L861.0 750.2L862.0 749.3L863.0 748.2L864.0 747.1L865.0 745.9L866.0 744.3L867.0 742.3L868.0 739.9L869.0 737.3L870.0 734.6L871.0 731.8L872.0 729.2L873.0 726.7L874.0 724.6L875.0 722.8L876.0 721.3L877.0 719.9L878.0 718.6L879.0 717.4L880.0 716.3L881.0 715.3L882.0 714.3L883.0 713.5L884.0 712.7L885.0 711.9L886.0 711.1L887.0 710.4L888.0 709.7L889.0 709.0L890.0 708.5L891.0 708.1L892.0 707.8L893.0 707.6L894.0 707.8L895.0 708.7L896.0 710.3L897.0 712.2L898.0 714.4L899.0 716.5L900.0 718.4L901.0 719.9L902.0 720.8L903.0 721.5L904.0 722.1L905.0 722.6L906.0 723.1L907.0 723.6L908.0 724.3L909.0 725.2L910.0 726.8L911.0 729.4L912.0 732.0L913.0 733.3L914.0 733.2L915.0 732.9L916.0 732.3L917.0 731.7L918.0 731.0L919.0 730.2L920.0 729.4L921.0 728.7L922.0 728.1L923.0 727.7L924.0 727.4L925.0 727.1L926.0 726.7L927.0 726.4L928.0 725.9L929.0 725.2L930.0 723.7L931.0 721.1L932.0 717.9L933.0 714.4L934.0 711.0L935.0 708.0L936.0 705.5L937.0 703.0L938.0 700.3L939.0 697.7L940.0 695.1L941.0 692.6L942.0 690.5L943.0 688.6L944.0 687.2L945.0 686.4L946.0 686.1L947.0 687.3L948.0 690.1L949.0 693.8L950.0 698.1L951.0 702.2L952.0 705.6L953.0 707.8L954.0 708.2L955.0 707.3L956.0 705.5L957.0 703.1L958.0 700.2L959.0 697.2L960.0 694.3L961.0 691.9L962.0 690.1L963.0 689.2L964.0 689.1L965.0 689.4L966.0 689.8L967.0 690.3L968.0 691.0L969.0 691.7L970.0 692.5L971.0 693.4L972.0 694.2L973.0 695.1L974.0 695.9L975.0 696.7L976.0 697.4L977.0 697.9L978.0 698.4L979.0 698.6L980.0 698.7L981.0 698.1L982.0 696.6L983.0 694.4L984.0 691.7L985.0 688.6L986.0 685.2L987.0 681.8L988.0 678.5L989.0 675.5L990.0 672.9L991.0 670.9L992.0 669.2L993.0 667.6L994.0 666.0L995.0 664.5L996.0 663.2L997.0 662.0L998.0 661.0L999.0 660.2L1000.0 659.6L1001.0 659.1L1002.0 658.7L1003.0 658.3L1004.0 657.9L1005.0 657.6L1006.0 657.3L1007.0 657.0L1008.0 656.7L1009.0 656.4L1010.0 656.0L1011.0 655.6L1012.0 655.1L1013.0 654.6L1014.0 654.1L1015.0 653.5L1016.0 653.0L1017.0 652.4L1018.0 651.8L1019.0 651.3L1020.0 650.7L1021.0 650.2L1022.0 649.7L1023.0 649.2L1024.0 648.8L1025.0 648.4L1026.0 648.1L1027.0 647.9L1028.0 647.7L1029.0 647.6L1030.0 647.7L1031.0 648.7L1032.0 650.4L1033.0 652.3L1034.0 653.8L1035.0 654.5L1036.0 654.5L1037.0 654.4L1038.0 654.2L1039.0 653.9L1040.0 653.6L1041.0 653.2L1042.0 652.8L1043.0 652.4L1044.0 651.9L1045.0 651.4L1046.0 650.8L1047.0 650.3L1048.0 649.7L1049.0 649.1L1050.0 648.6L1051.0 648.0L1052.0 647.4L1053.0 646.8L1054.0 645.9L1055.0 645.0L1056.0 644.1L1057.0 643.1L1058.0 642.2L1059.0 641.3L1060.0 640.5L1061.0 639.9L1062.0 639.5L1063.0 639.2L1064.0 639.1L1065.0 638.9L1066.0 638.8L1067.0 638.6L1068.0 638.5L1069.0 638.4L1070.0 638.3L1071.0 638.2L1072.0 638.2L1073.0 638.1L1074.0 638.0L1075.0 638.0L1076.0 638.0L1077.0 638.0L1078.0 638.2L1079.0 638.5L1080.0 639.0L1081.0 639.6L1082.0 640.2L1083.0 641.0L1084.0 641.8L1085.0 642.6L1086.0 643.5L1087.0 644.4L1088.0 645.2L1089.0 646.2L1090.0 647.1L1091.0 648.2L1092.0 649.3L1093.0 650.5L1094.0 651.8L1095.0 653.2L1096.0 654.7L1097.0 656.2L1098.0 657.9L1099.0 659.6L1100.0 661.4L1101.0 663.4L1102.0 665.5L1103.0 668.0L1104.0 671.0L1105.0 674.2L1106.0 677.7L1107.0 681.4L1108.0 685.2L1109.0 689.1L1110.0 693.0L1111.0 697.1L1112.0 701.4L1113.0 706.0L1114.0 710.7L1115.0 715.6L1116.0 720.5L1117.0 725.5L1118.0 730.5L1119.0 736.1L1120.0 742.4L1121.0 748.7L1122.0 754.2L1123.0 758.3L1124.0 760.4L1125.0 761.9L1126.0 763.2L1127.0 764.4L1128.0 765.3L1129.0 766.2L1130.0 767.0L1131.0 767.7L1132.0 768.4L1133.0 769.2L1134.0 770.0L1135.0 771.0L1136.0 772.0L1137.0 773.0L1138.0 774.0L1139.0 775.1L1140.0 776.1L1141.0 777.2L1142.0 778.2L1143.0 779.3L1144.0 780.3L1145.0 781.3L1146.0 782.3L1147.0 783.3L1148.0 784.2L1149.0 785.0L1150.0 785.9L1151.0 786.6L1152.0 787.3L1153.0 788.0L1154.0 788.6L1155.0 789.1L1156.0 789.6L1157.0 790.1L1158.0 790.6L1159.0 791.1L1160.0 791.6L1161.0 792.0L1162.0 792.5L1163.0 792.9L1164.0 793.3L1165.0 793.7L1166.0 794.1L1167.0 794.4L1168.0 794.8L1169.0 795.1L1170.0 795.4L1171.0 795.7L1172.0 796.0L1173.0 796.2L1174.0 796.4L1175.0 796.6L1176.0 796.8L1177.0 797.0L1178.0 797.1L1179.0 797.3L1180.0 797.4L1181.0 797.6L1182.0 797.7L1183.0 797.9L1184.0 798.0L1185.0 798.2L1186.0 798.3L1187.0 798.4L1188.0 798.6L1189.0 798.7L1190.0 798.8L1191.0 798.9L1192.0 799.0L1193.0 799.1L1194.0 799.2L1195.0 799.3L1196.0 799.3L1197.0 799.4L1198.0 799.4L1199.0 799.5L1200.0 799.5L1201.0 799.6L1202.0 799.6L1203.0 799.6L1204.0 799.6L1205.0 799.6L1206.0 799.6L1207.0 799.5L1208.0 799.5L1209.0 799.4L1210.0 799.4L1211.0 799.3L1212.0 799.2L1213.0 799.1L1214.0 799.0L1215.0 798.8L1216.0 798.7L1217.0 798.6L1218.0 798.4L1219.0 798.2L1220.0 798.1L1221.0 797.9L1222.0 797.7L1223.0 797.5L1224.0 797.2L1225.0 797.0L1226.0 796.8L1227.0 796.5L1228.0 796.3L1229.0 796.0L1230.0 795.7L1231.0 795.5L1232.0 795.1L1233.0 794.8L1234.0 794.3L1235.0 793.7L1236.0 793.0L1237.0 792.2L1238.0 791.3L1239.0 790.2L1240.0 789.1L1241.0 787.7L1242.0 786.2L1243.0 784.0L1244.0 779.9L1245.0 774.6L1246.0 768.7L1246.4 766.4" fill="none" stroke="#00465a" stroke-width="3.3" stroke-linejoin="round" stroke-linecap="round"/>
<path d="M88.0 737.0L89.0 737.1L90.0 737.2L91.0 737.3L92.0 737.4L93.0 737.5L94.0 737.5L95.0 737.6L96.0 737.7L97.0 737.7L98.0 737.8L99.0 737.8L100.0 737.8L101.0 737.9L102.0 737.9L103.0 737.9L104.0 737.9L105.0 737.9L106.0 738.0L107.0 738.0L108.0 738.0L109.0 738.0L110.0 738.0L111.0 738.0L112.0 738.0L113.0 738.0L114.0 738.0L115.0 738.0L116.0 738.0L117.0 737.9L118.0 737.9L119.0 737.8L120.0 737.7L121.0 737.6L122.0 737.4L123.0 737.3L124.0 737.1L125.0 737.0L126.0 736.9L127.0 736.7L128.0 736.6L129.0 736.4L130.0 736.3L131.0 736.2L132.0 736.1L133.0 736.1L134.0 736.0L135.0 736.0L136.0 736.0L137.0 736.1L138.0 736.2L139.0 736.4L140.0 736.5L141.0 736.8L142.0 737.0L143.0 737.2L144.0 737.5L145.0 737.8L146.0 738.0L147.0 738.3L148.0 738.5L149.0 738.7L150.0 739.0L151.0 739.1L152.0 739.3L153.0 739.4L154.0 739.5L155.0 739.5L156.0 739.4L157.0 739.3L158.0 739.0L159.0 738.6L160.0 738.2L161.0 737.7L162.0 737.2L163.0 736.8L164.0 736.3L165.0 735.8L166.0 735.4L167.0 735.0L168.0 734.7L169.0 734.6L170.0 734.5L171.0 734.6L172.0 734.8L173.0 735.2L174.0 735.6L175.0 736.1L176.0 736.5L177.0 737.0L178.0 737.4L179.0 737.8L180.0 738.0L181.0 738.1L182.0 738.3L183.0 738.4L184.0 738.4L185.0 738.5L186.0 738.6L187.0 738.6L188.0 738.7L189.0 738.8L190.0 738.9L191.0 739.0L192.0 739.1L193.0 739.3L194.0 739.5L195.0 739.9L196.0 740.4L197.0 741.0L198.0 741.7L199.0 742.5L200.0 743.4L201.0 744.4L202.0 745.4L203.0 747.0L204.0 749.2L205.0 751.5L206.0 753.7L207.0 755.4L208.0 756.9L209.0 758.3L210.0 759.6L211.0 761.1L212.0 762.6L213.0 764.3L214.0 766.3L215.0 768.3L216.0 770.5L217.0 772.6L218.0 774.7L219.0 776.7L220.0 778.5L221.0 780.2L222.0 781.7L223.0 783.2L224.0 784.7L225.0 786.2L226.0 787.8L227.0 789.4L228.0 791.3L229.0 793.3L230.0 795.4L231.0 797.6L232.0 799.7L233.0 801.8L234.0 803.7L235.0 805.4L236.0 806.9L237.0 808.4L238.0 809.8L239.0 811.2L240.0 812.5L241.0 813.8L242.0 815.1L243.0 816.4L244.0 817.6L245.0 818.7L246.0 819.9L247.0 821.1L248.0 822.3L249.0 823.5L250.0 824.8L251.0 826.1L252.0 827.6L253.0 829.0L254.0 830.4L255.0 831.8L256.0 833.2L257.0 834.5L258.0 835.8L259.0 837.0L260.0 838.2L261.0 839.4L262.0 840.6L263.0 841.7L264.0 842.9L265.0 844.1L266.0 845.3L267.0 846.5L268.0 847.7L269.0 848.9L270.0 850.2L271.0 851.4L272.0 852.7L273.0 854.0L274.0 855.4L275.0 856.8L276.0 858.2L277.0 859.6L278.0 861.0L279.0 862.4L280.0 863.9L281.0 865.4L282.0 867.0L283.0 868.6L284.0 870.1L285.0 871.4L286.0 872.5L287.0 873.4L288.0 874.2L289.0 875.0L290.0 875.7L291.0 876.4L292.0 876.9L293.0 877.3L294.0 877.5L295.0 877.7L296.0 877.8L297.0 877.9L298.0 878.0L299.0 878.2L300.0 878.3L301.0 878.4L302.0 878.4L303.0 878.5L304.0 878.6L305.0 878.6L306.0 878.7L307.0 878.7L308.0 878.7L309.0 878.7L310.0 878.6L311.0 878.5L312.0 878.3L313.0 878.0L314.0 877.7L315.0 877.4L316.0 877.0L317.0 876.6L318.0 876.2L319.0 875.8L320.0 875.4L321.0 875.0L322.0 874.7L323.0 874.4L324.0 874.2L325.0 874.0L326.0 873.9L327.0 873.9L328.0 874.0L329.0 874.2L330.0 874.5L331.0 874.8L332.0 875.1L333.0 875.5L334.0 875.9L335.0 876.4L336.0 876.8L337.0 877.1L338.0 877.5L339.0 877.8L340.0 878.0L341.0 878.2L342.0 878.3L343.0 878.3L344.0 878.3L345.0 878.3L346.0 878.3L347.0 878.3L348.0 878.3L349.0 878.3L350.0 878.2L351.0 878.2L352.0 878.2L353.0 878.2L354.0 878.2L355.0 878.1L356.0 878.1L357.0 878.1L358.0 878.0L359.0 878.0L360.0 878.0L361.0 877.9L362.0 877.9L363.0 877.8L364.0 877.8L365.0 877.8L366.0 877.7L367.0 877.7L368.0 877.6L369.0 877.6L370.0 877.5L371.0 877.4L372.0 877.3L373.0 877.2L374.0 877.0L375.0 876.8L376.0 876.6L377.0 876.4L378.0 876.1L379.0 875.8L380.0 875.5L381.0 875.2L382.0 874.9L383.0 874.6L384.0 874.2L385.0 873.9L386.0 873.5L387.0 873.1L388.0 872.6L389.0 872.1L390.0 871.5L391.0 870.8L392.0 870.2L393.0 869.5L394.0 868.7L395.0 868.0L396.0 867.2L397.0 866.5L398.0 865.7L399.0 864.9L400.0 864.2L401.0 863.5L402.0 862.7L403.0 862.0L404.0 861.1L405.0 860.3L406.0 859.4L407.0 858.5L408.0 857.6L409.0 856.7L410.0 855.8L411.0 855.0L412.0 854.2L413.0 853.5L414.0 852.8L415.0 852.2L416.0 851.7L417.0 851.4L418.0 851.1L419.0 850.8L420.0 850.5L421.0 850.3L422.0 850.0L423.0 849.8L424.0 849.6L425.0 849.4L426.0 849.2L427.0 849.0L428.0 848.9L429.0 848.8L430.0 848.7L431.0 848.7L432.0 848.8L433.0 849.6L434.0 850.9L435.0 852.4L436.0 853.5L437.0 853.9L438.0 853.6L439.0 852.8L440.0 851.7L441.0 850.3L442.0 848.7L443.0 847.0L444.0 845.4L445.0 843.9L446.0 842.5L447.0 841.5L448.0 840.9L449.0 840.8L450.0 840.9L451.0 841.1L452.0 841.4L453.0 841.8L454.0 842.2L455.0 842.6L456.0 842.9L457.0 843.3L458.0 843.6L459.0 843.7L460.0 843.8L461.0 843.5L462.0 842.6L463.0 841.3L464.0 839.7L465.0 837.9L466.0 836.2L467.0 834.6L468.0 833.4L469.0 832.5L470.0 832.2L471.0 832.0L472.0 831.9L473.0 831.7L474.0 831.6L475.0 831.5L476.0 831.4L477.0 831.4L478.0 831.3L479.0 831.3L480.0 831.3L481.0 831.4L482.0 831.5L483.0 831.7L484.0 831.9L485.0 832.1L486.0 832.4L487.0 832.7L488.0 833.0L489.0 833.3L490.0 833.6L491.0 833.9L492.0 834.2L493.0 834.4L494.0 834.7L495.0 834.9L496.0 835.0L497.0 835.1L498.0 835.2L499.0 835.2L500.0 835.1L501.0 835.1L502.0 834.9L503.0 834.8L504.0 834.6L505.0 834.3L506.0 834.1L507.0 833.8L508.0 833.5L509.0 833.2L510.0 832.9L511.0 832.6L512.0 832.2L513.0 831.9L514.0 831.6L515.0 831.2L516.0 830.9L517.0 830.6L518.0 830.3L519.0 830.0L520.0 829.7L521.0 829.3L522.0 829.0L523.0 828.6L524.0 828.2L525.0 827.9L526.0 827.5L527.0 827.1L528.0 826.7L529.0 826.3L530.0 825.9L531.0 825.6L532.0 825.2L533.0 824.9L534.0 824.5L535.0 824.2L536.0 823.9L537.0 823.7L538.0 823.4L539.0 823.2L540.0 822.9L541.0 822.7L542.0 822.5L543.0 822.3L544.0 822.1L545.0 821.9L546.0 821.7L547.0 821.5L548.0 821.3L549.0 821.2L550.0 821.0L551.0 820.8L552.0 820.6L553.0 820.5L554.0 820.3L555.0 820.1L556.0 819.9L557.0 819.7L558.0 819.6L559.0 819.4L560.0 819.2L561.0 819.0L562.0 818.8L563.0 818.5L564.0 818.3L565.0 818.1L566.0 817.9L567.0 817.6L568.0 817.4L569.0 817.1L570.0 816.8L571.0 816.5L572.0 816.3L573.0 816.0L574.0 815.7L575.0 815.4L576.0 815.1L577.0 814.7L578.0 814.4L579.0 814.1L580.0 813.7L581.0 813.3L582.0 813.0L583.0 812.6L584.0 812.1L585.0 811.7L586.0 811.3L587.0 810.8L588.0 810.4L589.0 809.9L590.0 809.5L591.0 809.0L592.0 808.5L593.0 808.0L594.0 807.6L595.0 807.1L596.0 806.6L597.0 806.2L598.0 805.7L599.0 805.2L600.0 804.6L601.0 804.1L602.0 803.6L603.0 803.1L604.0 802.6L605.0 802.0L606.0 801.5L607.0 801.0L608.0 800.5L609.0 800.0L610.0 799.5L611.0 799.0L612.0 798.5L613.0 798.1L614.0 797.6L615.0 797.2L616.0 796.7L617.0 796.3L618.0 795.9L619.0 795.5L620.0 795.1L621.0 794.7L622.0 794.3L623.0 793.9L624.0 793.5L625.0 793.1L626.0 792.7L627.0 792.4L628.0 792.0L629.0 791.6L630.0 791.2L631.0 790.8L632.0 790.4L633.0 790.0L634.0 789.6L635.0 789.3L636.0 788.9L637.0 788.5L638.0 788.1L639.0 787.8L640.0 787.4L641.0 787.0L642.0 786.6L643.0 786.3L644.0 785.9L645.0 785.5L646.0 785.1L647.0 784.7L648.0 784.3L649.0 783.9L650.0 783.5L651.0 783.1L652.0 782.6L653.0 782.1L654.0 781.6L655.0 781.1L656.0 780.6L657.0 780.1L658.0 779.5L659.0 779.0L660.0 778.5L661.0 778.0L662.0 777.5L663.0 777.0L664.0 776.6L665.0 776.2L666.0 775.8L667.0 775.4L668.0 775.1L669.0 774.8L670.0 774.6L671.0 774.4L672.0 774.3L673.0 774.1L674.0 774.0L675.0 773.9L676.0 773.7L677.0 773.6L678.0 773.4L679.0 773.3L680.0 773.1L681.0 772.9L682.0 772.6L683.0 772.3L684.0 771.9L685.0 771.5L686.0 771.0L687.0 770.5L688.0 770.0L689.0 769.5L690.0 768.9L691.0 768.3L692.0 767.7L693.0 767.0L694.0 766.4L695.0 765.7L696.0 765.0L697.0 764.3L698.0 763.7L699.0 763.0L700.0 762.3L701.0 761.6L702.0 760.9L703.0 760.3L704.0 759.7L705.0 759.0L706.0 758.4L707.0 757.9L708.0 757.3L709.0 756.8L710.0 756.3L711.0 755.7L712.0 755.2L713.0 754.6L714.0 754.1L715.0 753.5L716.0 753.0L717.0 752.5L718.0 751.9L719.0 751.4L720.0 750.8L721.0 750.3L722.0 749.8L723.0 749.3L724.0 748.7L725.0 748.2L726.0 747.7L727.0 747.2L728.0 746.8L729.0 746.3L730.0 745.8L731.0 745.4L732.0 744.9L733.0 744.5L734.0 744.1L735.0 743.7L736.0 743.3L737.0 742.9L738.0 742.5L739.0 742.2L740.0 741.8L741.0 741.4L742.0 741.1L743.0 740.8L744.0 740.4L745.0 740.1L746.0 739.8L747.0 739.5L748.0 739.2L749.0 739.0L750.0 738.7L751.0 738.5L752.0 738.3L753.0 738.1L754.0 737.9L755.0 737.7L756.0 737.5L757.0 737.3L758.0 737.1L759.0 736.9L760.0 736.7L761.0 736.6L762.0 736.5L763.0 736.4L764.0 736.3L765.0 736.3L766.0 736.3L767.0 736.4L768.0 736.5L769.0 736.6L770.0 736.8L771.0 737.0L772.0 737.2L773.0 737.5L774.0 737.8L775.0 738.1L776.0 738.4L777.0 738.8L778.0 739.2L779.0 739.5L780.0 739.9L781.0 740.3L782.0 740.7L783.0 741.2L784.0 741.7L785.0 742.3L786.0 742.9L787.0 743.6L788.0 744.3L789.0 745.1L790.0 745.9L791.0 746.8L792.0 747.7L793.0 748.6L794.0 749.6L795.0 750.6L796.0 751.6L797.0 752.8L798.0 754.0L799.0 755.3L800.0 756.8L801.0 758.4L802.0 760.3L803.0 762.4L804.0 764.8L805.0 769.1L806.0 774.8L807.0 779.6L808.0 781.9L809.0 782.8L810.0 783.4L811.0 783.9L812.0 784.8L813.0 786.5L814.0 790.4L815.0 796.1L816.0 802.9L817.0 810.1L818.0 818.5L819.0 830.5L820.0 843.7L821.0 855.4L822.0 863.0L823.0 864.3L824.0 863.2L825.0 861.4L826.0 859.4L827.0 857.5L828.0 856.3L829.0 855.4L830.0 854.6L831.0 854.1L832.0 854.0L833.0 855.6L834.0 859.1L835.0 863.7L836.0 868.6L837.0 873.2L838.0 876.8L839.0 879.0L840.0 881.0L841.0 882.9L842.0 884.7L843.0 886.3L844.0 887.8L845.0 889.2L846.0 890.4L847.0 891.5L848.0 892.5L849.0 893.4L850.0 894.2L851.0 895.0L852.0 895.8L853.0 896.5L854.0 897.3L855.0 897.9L856.0 898.5L857.0 899.0L858.0 899.3L859.0 899.6L860.0 899.8L861.0 899.8L862.0 899.5L863.0 899.1L864.0 898.4L865.0 897.7L866.0 896.9L867.0 896.1L868.0 895.2L869.0 894.1L870.0 892.7L871.0 891.3L872.0 889.8L873.0 888.2L874.0 886.8L875.0 885.4L876.0 884.2L877.0 883.3L878.0 882.6L879.0 882.1L880.0 881.5L881.0 881.0L882.0 880.5L883.0 880.0L884.0 879.6L885.0 879.2L886.0 878.8L887.0 878.5L888.0 878.3L889.0 878.1L890.0 878.0L891.0 878.0L892.0 878.3L893.0 878.9L894.0 879.7L895.0 880.7L896.0 881.9L897.0 883.2L898.0 884.5L899.0 885.7L900.0 886.8L901.0 887.8L902.0 888.6L903.0 889.4L904.0 890.2L905.0 891.1L906.0 892.0L907.0 892.8L908.0 893.6L909.0 894.3L910.0 895.0L911.0 895.5L912.0 895.9L913.0 896.2L914.0 896.4L915.0 896.4L916.0 896.3L917.0 896.3L918.0 896.1L919.0 896.0L920.0 895.8L921.0 895.6L922.0 895.3L923.0 895.0L924.0 894.7L925.0 894.3L926.0 893.9L927.0 893.4L928.0 892.8L929.0 891.5L930.0 889.4L931.0 886.9L932.0 884.1L933.0 881.1L934.0 878.3L935.0 875.8L936.0 873.6L937.0 871.3L938.0 868.8L939.0 866.3L940.0 863.8L941.0 861.5L942.0 859.4L943.0 857.7L944.0 856.3L945.0 855.5L946.0 855.2L947.0 856.4L948.0 859.2L949.0 863.0L950.0 867.2L951.0 871.3L952.0 874.8L953.0 877.0L954.0 877.5L955.0 876.6L956.0 875.0L957.0 872.8L958.0 870.2L959.0 867.6L960.0 865.0L961.0 862.8L962.0 861.2L963.0 860.3L964.0 860.3L965.0 860.5L966.0 860.9L967.0 861.4L968.0 862.0L969.0 862.6L970.0 863.4L971.0 864.1L972.0 864.9L973.0 865.8L974.0 866.6L975.0 867.3L976.0 868.0L977.0 868.6L978.0 869.2L979.0 869.6L980.0 869.9L981.0 870.0L982.0 869.3L983.0 866.9L984.0 863.1L985.0 858.4L986.0 853.4L987.0 848.4L988.0 844.0L989.0 840.7L990.0 838.8L991.0 837.4L992.0 836.3L993.0 835.2L994.0 834.1L995.0 832.7L996.0 831.0L997.0 828.9L998.0 826.7L999.0 824.2L1000.0 821.7L1001.0 819.2L1002.0 816.7L1003.0 814.3L1004.0 812.0L1005.0 810.0L1006.0 808.2L1007.0 806.4L1008.0 804.8L1009.0 803.2L1010.0 801.6L1011.0 800.0L1012.0 798.3L1013.0 796.6L1014.0 794.8L1015.0 792.7L1016.0 790.3L1017.0 787.5L1018.0 784.5L1019.0 781.4L1020.0 778.3L1021.0 775.3L1022.0 772.4L1023.0 769.9L1024.0 767.8L1025.0 766.2L1026.0 765.3L1027.0 765.0L1028.0 765.7L1029.0 767.0L1030.0 768.7L1031.0 770.5L1032.0 772.0L1033.0 773.1L1034.0 773.3L1035.0 772.6L1036.0 771.3L1037.0 769.4L1038.0 767.2L1039.0 764.8L1040.0 762.3L1041.0 759.9L1042.0 757.7L1043.0 756.0L1044.0 754.7L1045.0 753.6L1046.0 752.6L1047.0 751.7L1048.0 750.8L1049.0 749.9L1050.0 748.8L1051.0 747.6L1052.0 746.1L1053.0 744.4L1054.0 742.7L1055.0 740.9L1056.0 739.2L1057.0 737.7L1058.0 736.6L1059.0 735.8L1060.0 735.5L1061.0 736.1L1062.0 737.8L1063.0 740.2L1064.0 742.9L1065.0 745.7L1066.0 748.3L1067.0 750.2L1068.0 751.1L1069.0 751.1L1070.0 750.6L1071.0 749.9L1072.0 748.8L1073.0 747.7L1074.0 746.4L1075.0 745.0L1076.0 743.7L1077.0 742.6L1078.0 741.5L1079.0 740.8L1080.0 740.3L1081.0 740.2L1082.0 740.4L1083.0 740.7L1084.0 741.2L1085.0 741.8L1086.0 742.6L1087.0 743.4L1088.0 744.4L1089.0 745.4L1090.0 746.4L1091.0 747.5L1092.0 748.6L1093.0 749.7L1094.0 750.8L1095.0 752.1L1096.0 753.5L1097.0 755.0L1098.0 756.6L1099.0 758.4L1100.0 760.3L1101.0 762.2L1102.0 764.3L1103.0 766.5L1104.0 768.7L1105.0 771.1L1106.0 773.8L1107.0 776.7L1108.0 779.8L1109.0 783.2L1110.0 786.8L1111.0 790.6L1112.0 794.7L1113.0 799.0L1114.0 803.8L1115.0 809.1L1116.0 814.8L1117.0 820.9L1118.0 827.4L1119.0 834.2L1120.0 841.4L1121.0 849.0L1122.0 860.1L1123.0 869.5L1124.0 871.9L1125.0 872.7L1126.0 873.4L1127.0 874.0L1128.0 874.5L1129.0 874.9L1130.0 875.3L1131.0 875.5L1132.0 875.8L1133.0 876.0L1134.0 876.2L1135.0 876.4L1136.0 876.6L1137.0 876.9L1138.0 877.2L1139.0 877.5L1140.0 878.0L1141.0 878.5L1142.0 879.2L1143.0 879.8L1144.0 880.6L1145.0 881.4L1146.0 882.2L1147.0 883.0L1148.0 883.9L1149.0 884.7L1150.0 885.6L1151.0 886.3L1152.0 887.1L1153.0 887.8L1154.0 888.4L1155.0 889.0L1156.0 889.7L1157.0 890.3L1158.0 890.9L1159.0 891.5L1160.0 892.1L1161.0 892.7L1162.0 893.3L1163.0 893.9L1164.0 894.5L1165.0 895.0L1166.0 895.5L1167.0 896.0L1168.0 896.4L1169.0 896.8L1170.0 897.2L1171.0 897.6L1172.0 897.9L1173.0 898.1L1174.0 898.3L1175.0 898.5L1176.0 898.6L1177.0 898.8L1178.0 898.9L1179.0 899.1L1180.0 899.2L1181.0 899.3L1182.0 899.4L1183.0 899.5L1184.0 899.6L1185.0 899.7L1186.0 899.8L1187.0 899.9L1188.0 900.0L1189.0 900.1L1190.0 900.1L1191.0 900.2L1192.0 900.3L1193.0 900.3L1194.0 900.4L1195.0 900.4L1196.0 900.5L1197.0 900.6L1198.0 900.6L1199.0 900.7L1200.0 900.7L1201.0 900.8L1202.0 900.8L1203.0 900.8L1204.0 900.9L1205.0 900.9L1206.0 900.9L1207.0 901.0L1208.0 901.0L1209.0 901.0L1210.0 901.0L1211.0 901.0L1212.0 900.9L1213.0 900.8L1214.0 900.7L1215.0 900.5L1216.0 900.3L1217.0 900.0L1218.0 899.8L1219.0 899.5L1220.0 899.2L1221.0 898.8L1222.0 898.5L1223.0 898.1L1224.0 897.7L1225.0 897.4L1226.0 897.0L1227.0 896.6L1228.0 896.2L1229.0 895.9L1230.0 895.5L1231.0 895.1L1232.0 894.8L1233.0 894.3L1234.0 893.9L1235.0 893.3L1236.0 892.8L1237.0 892.1L1238.0 891.3L1239.0 890.5L1240.0 889.5L1241.0 887.9L1242.0 885.6L1243.0 882.5L1244.0 878.9L1245.0 874.8L1246.0 869.6L1247.0 862.3L1247.3 860.0" fill="none" stroke="#00007f" stroke-width="3.3" stroke-linejoin="round" stroke-linecap="round"/>
<rect x="87" y="33" width="1161" height="933" fill="none" stroke="#000" stroke-width="3.8"/>
<line x1="87.0" y1="966" x2="87.0" y2="983.5" stroke="#000" stroke-width="3.0"/>
<line x1="249.6" y1="966" x2="249.6" y2="983.5" stroke="#000" stroke-width="3.0"/>
<line x1="412.1" y1="966" x2="412.1" y2="983.5" stroke="#000" stroke-width="3.0"/>
<line x1="574.7" y1="966" x2="574.7" y2="983.5" stroke="#000" stroke-width="3.0"/>
<line x1="737.3" y1="966" x2="737.3" y2="983.5" stroke="#000" stroke-width="3.0"/>
<line x1="899.8" y1="966" x2="899.8" y2="983.5" stroke="#000" stroke-width="3.0"/>
<line x1="1062.4" y1="966" x2="1062.4" y2="983.5" stroke="#000" stroke-width="3.0"/>
<line x1="1225.0" y1="966" x2="1225.0" y2="983.5" stroke="#000" stroke-width="3.0"/>
<text transform="translate(87.0,1030.5) scale(0.95,1)" class="tl" text-anchor="middle">4000</text>
<text transform="translate(249.6,1030.5) scale(0.95,1)" class="tl" text-anchor="middle">3500</text>
<text transform="translate(412.1,1030.5) scale(0.95,1)" class="tl" text-anchor="middle">3000</text>
<text transform="translate(574.7,1030.5) scale(0.95,1)" class="tl" text-anchor="middle">2500</text>
<text transform="translate(737.3,1030.5) scale(0.95,1)" class="tl" text-anchor="middle">2000</text>
<text transform="translate(899.8,1030.5) scale(0.95,1)" class="tl" text-anchor="middle">1500</text>
<text transform="translate(1062.4,1030.5) scale(0.95,1)" class="tl" text-anchor="middle">1000</text>
<text transform="translate(1225.0,1030.5) scale(0.95,1)" class="tl" text-anchor="middle">500</text>
<line x1="261.0" y1="99.3" x2="273.0" y2="118.0" stroke="#000" stroke-width="1.8"/><polygon points="285.9,138.2 267.5,121.5 278.4,114.5" fill="#000"/>
<line x1="894.8" y1="70.1" x2="874.4" y2="82.8" stroke="#000" stroke-width="1.8"/><polygon points="854.0,95.5 870.9,77.3 877.8,88.3" fill="#000"/>
<line x1="1182.9" y1="209.9" x2="1196.8" y2="227.1" stroke="#000" stroke-width="1.8"/><polygon points="1211.9,245.8 1191.8,231.2 1201.9,223.0" fill="#000"/>
<line x1="890.8" y1="848.7" x2="901.7" y2="867.3" stroke="#000" stroke-width="1.8"/><polygon points="913.9,888.0 896.1,870.6 907.3,864.0" fill="#000"/>
<line x1="957.8" y1="791.3" x2="972.6" y2="837.4" stroke="#000" stroke-width="1.8"/><polygon points="979.9,860.3 966.4,839.4 978.8,835.5" fill="#000"/>
<line x1="764.3" y1="910.3" x2="833.4" y2="902.1" stroke="#000" stroke-width="1.8"/><polygon points="857.2,899.3 834.1,908.6 832.6,895.7" fill="#000"/>
<line x1="1154.5" y1="917.2" x2="1139.6" y2="897.8" stroke="#000" stroke-width="1.8"/><polygon points="1124.9,878.8 1144.7,893.8 1134.4,901.8" fill="#000"/>
<text transform="translate(222.5,87.2) scale(0.995,1)" class="an">3401.5</text>
<text transform="translate(902.4,82.8) scale(0.975,1)" class="an">1633.3</text>
<text transform="translate(1150.1,200.7) scale(0.975,1)" class="an">508</text>
<text transform="translate(838.5,837.4) scale(0.975,1)" class="an">1335.6</text>
<text transform="translate(889.7,777.2) scale(0.975,1)" class="an">1626.2</text>
<text transform="translate(658.0,924.6) scale(0.975,1)" class="an">1247.4</text>
<text transform="translate(813.7,938.6) scale(0.975,1)" class="an">1200.0-1700.0</text>
<text transform="translate(195.5,939.5) scale(1.000,1)" class="an">3011.3-3681.4</text>
<text transform="translate(1141.5,950.1) scale(0.975,1)" class="an">813</text>
<text transform="translate(555.5,85.6) scale(1.000,1)" class="lb" fill="#151515">m-TiO<tspan class='sub' dx='1' dy='8.5'>2</tspan></text>
<text transform="translate(555.4,187.2) scale(0.990,1)" class="lb" fill="#80500a">TCN1</text>
<text transform="translate(555.4,280.6) scale(1.010,1)" class="lb" fill="#9a0000">TCN3</text>
<text transform="translate(553.2,371.0) scale(1.030,1)" class="lb" fill="#c85f00">TCN5</text>
<text transform="translate(554.2,465.3) scale(1.030,1)" class="lb" fill="#7c8000">TCN10</text>
<text transform="translate(553.0,555.5) scale(1.030,1)" class="lb" fill="#085f08">TCN15</text>
<text transform="translate(553.0,649.0) scale(1.030,1)" class="lb" fill="#00465a">TCN30</text>
<text transform="translate(555.0,752.5) scale(1.000,1)" class="lb" fill="#00007f">g-C<tspan class='sub' dx='1' dy='9'>3</tspan><tspan dx='1' dy='-9'>N</tspan><tspan class='sub' dx='1' dy='9'>4</tspan></text>
<text transform="translate(667,1116) scale(0.968,1)" class="xt" text-anchor="middle">Wavenumber (cm<tspan class="sup" dy="-20">-1</tspan><tspan dy="20">)</tspan></text>
<text transform="translate(47,497.5) rotate(-90)" class="xt yt" text-anchor="middle">Transmittance (a.u.)</text>
</svg></body></html>
